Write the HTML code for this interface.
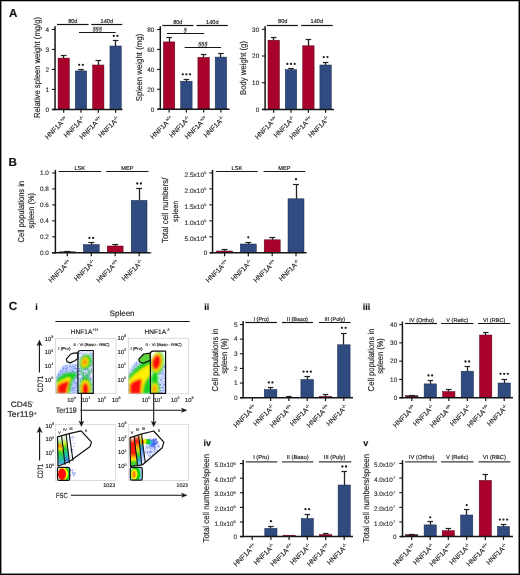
<!DOCTYPE html>
<html><head><meta charset="utf-8"><style>
html,body{margin:0;padding:0;background:#fff;}
svg{display:block;will-change:transform;opacity:0.999;}
text{font-family:"Liberation Sans", sans-serif;text-rendering:geometricPrecision;stroke:#1e1e1e;stroke-width:0.16px;}
.tk{stroke:#2a2a2a;stroke-width:0.12px;fill:#2a2a2a;}
</style></head><body>
<svg width="520" height="575" viewBox="0 0 520 575" font-family='"Liberation Sans", sans-serif' fill="#1e1e1e">
<rect x="0" y="0" width="520" height="575" fill="#fff"/>
<text x="9.0" y="17.0" font-size="11.6" font-weight="bold" fill="#111" >A</text>
<text x="8.5" y="165.9" font-size="11.6" font-weight="bold" fill="#111" >B</text>
<text x="8.7" y="310.2" font-size="11.8" font-weight="bold" fill="#111" >C</text>
<text x="35.3" y="310.2" font-size="9.0" font-weight="bold" fill="#111" >i</text>
<text x="204.2" y="310.2" font-size="9.0" font-weight="bold" fill="#111" >ii</text>
<text x="362.8" y="310.2" font-size="9.0" font-weight="bold" fill="#111" >iii</text>
<text x="203.4" y="445.8" font-size="9.0" font-weight="bold" fill="#111" >iv</text>
<text x="363.3" y="445.8" font-size="9.0" font-weight="bold" fill="#111" >v</text>
<line x1="55.05" y1="26.2" x2="55.05" y2="110.15" stroke="#151515" stroke-width="1.5" />
<line x1="51.849999999999994" y1="29.4" x2="55.05" y2="29.4" stroke="#151515" stroke-width="1.1" />
<text x="49.0" y="31.703999999999997" font-size="6.4" text-anchor="end" class="tk">4</text>
<line x1="51.849999999999994" y1="49.4" x2="55.05" y2="49.4" stroke="#151515" stroke-width="1.1" />
<text x="49.0" y="51.704" font-size="6.4" text-anchor="end" class="tk">3</text>
<line x1="51.849999999999994" y1="69.4" x2="55.05" y2="69.4" stroke="#151515" stroke-width="1.1" />
<text x="49.0" y="71.70400000000001" font-size="6.4" text-anchor="end" class="tk">2</text>
<line x1="51.849999999999994" y1="89.4" x2="55.05" y2="89.4" stroke="#151515" stroke-width="1.1" />
<text x="49.0" y="91.70400000000001" font-size="6.4" text-anchor="end" class="tk">1</text>
<line x1="51.849999999999994" y1="109.4" x2="55.05" y2="109.4" stroke="#151515" stroke-width="1.1" />
<text x="49.0" y="111.70400000000001" font-size="6.4" text-anchor="end" class="tk">0</text>
<rect x="58.050000000000004" y="58.1" width="11.3" height="51.300000000000004" fill="#a8022c" stroke="#5a0018" stroke-width="0.5"/>
<line x1="63.5" y1="55.4" x2="63.5" y2="58.1" stroke="#222" stroke-width="1.3" />
<line x1="60.900000000000006" y1="55.5" x2="66.5" y2="55.5" stroke="#222" stroke-width="1.2" />
<rect x="75.35" y="70.9" width="11.3" height="38.5" fill="#2f4b80" stroke="#17264a" stroke-width="0.5"/>
<line x1="81.5" y1="69.5" x2="81.5" y2="70.9" stroke="#222" stroke-width="1.3" />
<line x1="78.2" y1="69.5" x2="83.8" y2="69.5" stroke="#222" stroke-width="1.2" />
<circle cx="79.17" cy="64.8" r="1.15" fill="#1e1e1e"/>
<circle cx="82.83" cy="64.8" r="1.15" fill="#1e1e1e"/>
<rect x="92.64999999999999" y="65.0" width="11.3" height="44.400000000000006" fill="#a8022c" stroke="#5a0018" stroke-width="0.5"/>
<line x1="98.5" y1="60.5" x2="98.5" y2="65.0" stroke="#222" stroke-width="1.3" />
<line x1="95.5" y1="60.5" x2="101.1" y2="60.5" stroke="#222" stroke-width="1.2" />
<rect x="109.94999999999999" y="46.0" width="11.3" height="63.400000000000006" fill="#2f4b80" stroke="#17264a" stroke-width="0.5"/>
<line x1="115.5" y1="40.4" x2="115.5" y2="46.0" stroke="#222" stroke-width="1.3" />
<line x1="112.8" y1="40.5" x2="118.39999999999999" y2="40.5" stroke="#222" stroke-width="1.2" />
<circle cx="113.77" cy="35.9" r="1.15" fill="#1e1e1e"/>
<circle cx="117.42" cy="35.9" r="1.15" fill="#1e1e1e"/>
<line x1="52.0" y1="109.4" x2="122.5" y2="109.4" stroke="#151515" stroke-width="1.5" />
<line x1="63.7" y1="109.4" x2="63.7" y2="112.80000000000001" stroke="#151515" stroke-width="1.2" />
<line x1="81.0" y1="109.4" x2="81.0" y2="112.80000000000001" stroke="#151515" stroke-width="1.2" />
<line x1="98.3" y1="109.4" x2="98.3" y2="112.80000000000001" stroke="#151515" stroke-width="1.2" />
<line x1="115.6" y1="109.4" x2="115.6" y2="112.80000000000001" stroke="#151515" stroke-width="1.2" />
<line x1="57.0" y1="24.5" x2="88.6" y2="24.5" stroke="#151515" stroke-width="1.2" />
<text x="72.8" y="22.6" font-size="5.6" text-anchor="middle" >80d</text>
<line x1="91.3" y1="24.5" x2="122.3" y2="24.5" stroke="#151515" stroke-width="1.2" />
<text x="106.8" y="22.6" font-size="5.6" text-anchor="middle" >140d</text>
<line x1="79.0" y1="32.5" x2="115.6" y2="32.5" stroke="#151515" stroke-width="1.2" />
<text x="97.4" y="30.8" font-size="5.6" text-anchor="middle" font-style="italic">§§§</text>
<text transform="translate(67.90,119.40) rotate(-45)" font-size="6.8" text-anchor="end">HNF1A<tspan font-size="4.4" dy="-2.58">+/+</tspan></text>
<text transform="translate(85.20,119.40) rotate(-45)" font-size="6.8" text-anchor="end">HNF1A<tspan font-size="4.4" dy="-2.58">-/-</tspan></text>
<text transform="translate(102.50,119.40) rotate(-45)" font-size="6.8" text-anchor="end">HNF1A<tspan font-size="4.4" dy="-2.58">+/+</tspan></text>
<text transform="translate(119.80,119.40) rotate(-45)" font-size="6.8" text-anchor="end">HNF1A<tspan font-size="4.4" dy="-2.58">-/-</tspan></text>
<text transform="translate(40.2,67.5) rotate(-90)" font-size="8.5" text-anchor="middle" textLength="101" lengthAdjust="spacingAndGlyphs" >Relative spleen weight (mg/g)</text>
<line x1="160.3" y1="26.2" x2="160.3" y2="109.95" stroke="#151515" stroke-width="1.5" />
<line x1="157.10000000000002" y1="29.5" x2="160.3" y2="29.5" stroke="#151515" stroke-width="1.1" />
<text x="154.4" y="31.804" font-size="6.4" text-anchor="end" class="tk">80</text>
<line x1="157.10000000000002" y1="49.4" x2="160.3" y2="49.4" stroke="#151515" stroke-width="1.1" />
<text x="154.4" y="51.704" font-size="6.4" text-anchor="end" class="tk">60</text>
<line x1="157.10000000000002" y1="69.4" x2="160.3" y2="69.4" stroke="#151515" stroke-width="1.1" />
<text x="154.4" y="71.70400000000001" font-size="6.4" text-anchor="end" class="tk">40</text>
<line x1="157.10000000000002" y1="89.3" x2="160.3" y2="89.3" stroke="#151515" stroke-width="1.1" />
<text x="154.4" y="91.604" font-size="6.4" text-anchor="end" class="tk">20</text>
<line x1="157.10000000000002" y1="109.2" x2="160.3" y2="109.2" stroke="#151515" stroke-width="1.1" />
<text x="154.4" y="111.504" font-size="6.4" text-anchor="end" class="tk">0</text>
<rect x="163.4" y="41.9" width="11.4" height="67.30000000000001" fill="#a8022c" stroke="#5a0018" stroke-width="0.5"/>
<line x1="169.5" y1="37.7" x2="169.5" y2="41.9" stroke="#222" stroke-width="1.3" />
<line x1="166.29999999999998" y1="37.5" x2="171.9" y2="37.5" stroke="#222" stroke-width="1.2" />
<rect x="180.70000000000002" y="81.2" width="11.4" height="28.0" fill="#2f4b80" stroke="#17264a" stroke-width="0.5"/>
<line x1="186.5" y1="79.2" x2="186.5" y2="81.2" stroke="#222" stroke-width="1.3" />
<line x1="183.6" y1="79.5" x2="189.20000000000002" y2="79.5" stroke="#222" stroke-width="1.2" />
<circle cx="182.75" cy="74.3" r="1.15" fill="#1e1e1e"/>
<circle cx="186.40" cy="74.3" r="1.15" fill="#1e1e1e"/>
<circle cx="190.05" cy="74.3" r="1.15" fill="#1e1e1e"/>
<rect x="197.9" y="57.4" width="11.4" height="51.800000000000004" fill="#a8022c" stroke="#5a0018" stroke-width="0.5"/>
<line x1="203.5" y1="54.8" x2="203.5" y2="57.4" stroke="#222" stroke-width="1.3" />
<line x1="200.79999999999998" y1="54.5" x2="206.4" y2="54.5" stroke="#222" stroke-width="1.2" />
<rect x="215.20000000000002" y="57.1" width="11.4" height="52.1" fill="#2f4b80" stroke="#17264a" stroke-width="0.5"/>
<line x1="220.5" y1="53.3" x2="220.5" y2="57.1" stroke="#222" stroke-width="1.3" />
<line x1="218.1" y1="53.5" x2="223.70000000000002" y2="53.5" stroke="#222" stroke-width="1.2" />
<line x1="157.6" y1="109.2" x2="229.5" y2="109.2" stroke="#151515" stroke-width="1.5" />
<line x1="169.1" y1="109.2" x2="169.1" y2="112.60000000000001" stroke="#151515" stroke-width="1.2" />
<line x1="186.4" y1="109.2" x2="186.4" y2="112.60000000000001" stroke="#151515" stroke-width="1.2" />
<line x1="203.6" y1="109.2" x2="203.6" y2="112.60000000000001" stroke="#151515" stroke-width="1.2" />
<line x1="220.9" y1="109.2" x2="220.9" y2="112.60000000000001" stroke="#151515" stroke-width="1.2" />
<line x1="162.3" y1="25.5" x2="193.5" y2="25.5" stroke="#151515" stroke-width="1.2" />
<text x="177.8" y="23.6" font-size="5.6" text-anchor="middle" >80d</text>
<line x1="196.4" y1="25.5" x2="227.8" y2="25.5" stroke="#151515" stroke-width="1.2" />
<text x="212.3" y="23.6" font-size="5.6" text-anchor="middle" >140d</text>
<line x1="167.0" y1="33.5" x2="204.2" y2="33.5" stroke="#151515" stroke-width="1.2" />
<text x="185.2" y="32.099999999999994" font-size="5.6" text-anchor="middle" font-style="italic">§</text>
<line x1="184.6" y1="47.5" x2="221.0" y2="47.5" stroke="#151515" stroke-width="1.2" />
<text x="202.9" y="45.699999999999996" font-size="5.6" text-anchor="middle" font-style="italic">§§§</text>
<text transform="translate(173.30,119.20) rotate(-45)" font-size="6.8" text-anchor="end">HNF1A<tspan font-size="4.4" dy="-2.58">+/+</tspan></text>
<text transform="translate(190.60,119.20) rotate(-45)" font-size="6.8" text-anchor="end">HNF1A<tspan font-size="4.4" dy="-2.58">-/-</tspan></text>
<text transform="translate(207.80,119.20) rotate(-45)" font-size="6.8" text-anchor="end">HNF1A<tspan font-size="4.4" dy="-2.58">+/+</tspan></text>
<text transform="translate(225.10,119.20) rotate(-45)" font-size="6.8" text-anchor="end">HNF1A<tspan font-size="4.4" dy="-2.58">-/-</tspan></text>
<text transform="translate(141.9,67.5) rotate(-90)" font-size="8.5" text-anchor="middle" textLength="67.6" lengthAdjust="spacingAndGlyphs" >Spleen weight (mg)</text>
<line x1="265.1" y1="26.2" x2="265.1" y2="110.15" stroke="#151515" stroke-width="1.5" />
<line x1="261.90000000000003" y1="29.3" x2="265.1" y2="29.3" stroke="#151515" stroke-width="1.1" />
<text x="259.2" y="31.604" font-size="6.4" text-anchor="end" class="tk">30</text>
<line x1="261.90000000000003" y1="56.0" x2="265.1" y2="56.0" stroke="#151515" stroke-width="1.1" />
<text x="259.2" y="58.304" font-size="6.4" text-anchor="end" class="tk">20</text>
<line x1="261.90000000000003" y1="82.7" x2="265.1" y2="82.7" stroke="#151515" stroke-width="1.1" />
<text x="259.2" y="85.004" font-size="6.4" text-anchor="end" class="tk">10</text>
<line x1="261.90000000000003" y1="109.4" x2="265.1" y2="109.4" stroke="#151515" stroke-width="1.1" />
<text x="259.2" y="111.70400000000001" font-size="6.4" text-anchor="end" class="tk">0</text>
<rect x="268.0" y="40.2" width="11.4" height="69.2" fill="#a8022c" stroke="#5a0018" stroke-width="0.5"/>
<line x1="273.5" y1="37.9" x2="273.5" y2="40.2" stroke="#222" stroke-width="1.3" />
<line x1="270.9" y1="37.5" x2="276.5" y2="37.5" stroke="#222" stroke-width="1.2" />
<rect x="285.3" y="69.6" width="11.4" height="39.80000000000001" fill="#2f4b80" stroke="#17264a" stroke-width="0.5"/>
<line x1="291.5" y1="68.3" x2="291.5" y2="69.6" stroke="#222" stroke-width="1.3" />
<line x1="288.2" y1="68.5" x2="293.8" y2="68.5" stroke="#222" stroke-width="1.2" />
<circle cx="287.35" cy="63.9" r="1.15" fill="#1e1e1e"/>
<circle cx="291.00" cy="63.9" r="1.15" fill="#1e1e1e"/>
<circle cx="294.65" cy="63.9" r="1.15" fill="#1e1e1e"/>
<rect x="302.7" y="45.8" width="11.4" height="63.60000000000001" fill="#a8022c" stroke="#5a0018" stroke-width="0.5"/>
<line x1="308.5" y1="39.4" x2="308.5" y2="45.8" stroke="#222" stroke-width="1.3" />
<line x1="305.59999999999997" y1="39.5" x2="311.2" y2="39.5" stroke="#222" stroke-width="1.2" />
<rect x="319.90000000000003" y="65.0" width="11.4" height="44.400000000000006" fill="#2f4b80" stroke="#17264a" stroke-width="0.5"/>
<line x1="325.5" y1="62.3" x2="325.5" y2="65.0" stroke="#222" stroke-width="1.3" />
<line x1="322.8" y1="62.5" x2="328.40000000000003" y2="62.5" stroke="#222" stroke-width="1.2" />
<circle cx="323.78" cy="57.1" r="1.15" fill="#1e1e1e"/>
<circle cx="327.43" cy="57.1" r="1.15" fill="#1e1e1e"/>
<line x1="262.0" y1="109.4" x2="334.0" y2="109.4" stroke="#151515" stroke-width="1.5" />
<line x1="273.7" y1="109.4" x2="273.7" y2="112.80000000000001" stroke="#151515" stroke-width="1.2" />
<line x1="291.0" y1="109.4" x2="291.0" y2="112.80000000000001" stroke="#151515" stroke-width="1.2" />
<line x1="308.4" y1="109.4" x2="308.4" y2="112.80000000000001" stroke="#151515" stroke-width="1.2" />
<line x1="325.6" y1="109.4" x2="325.6" y2="112.80000000000001" stroke="#151515" stroke-width="1.2" />
<line x1="266.9" y1="25.5" x2="298.0" y2="25.5" stroke="#151515" stroke-width="1.2" />
<text x="282.7" y="23.3" font-size="5.6" text-anchor="middle" >80d</text>
<line x1="301.2" y1="25.5" x2="332.7" y2="25.5" stroke="#151515" stroke-width="1.2" />
<text x="316.8" y="23.3" font-size="5.6" text-anchor="middle" >140d</text>
<text transform="translate(277.90,119.40) rotate(-45)" font-size="6.8" text-anchor="end">HNF1A<tspan font-size="4.4" dy="-2.58">+/+</tspan></text>
<text transform="translate(295.20,119.40) rotate(-45)" font-size="6.8" text-anchor="end">HNF1A<tspan font-size="4.4" dy="-2.58">-/-</tspan></text>
<text transform="translate(312.60,119.40) rotate(-45)" font-size="6.8" text-anchor="end">HNF1A<tspan font-size="4.4" dy="-2.58">+/+</tspan></text>
<text transform="translate(329.80,119.40) rotate(-45)" font-size="6.8" text-anchor="end">HNF1A<tspan font-size="4.4" dy="-2.58">-/-</tspan></text>
<text transform="translate(245.8,68.0) rotate(-90)" font-size="8.5" text-anchor="middle" textLength="54" lengthAdjust="spacingAndGlyphs" >Body weight (g)</text>
<line x1="55.4" y1="169.9" x2="55.4" y2="253.55" stroke="#151515" stroke-width="1.5" />
<line x1="52.199999999999996" y1="172.95" x2="55.4" y2="172.95" stroke="#151515" stroke-width="1.1" />
<text x="48.8" y="175.254" font-size="6.4" text-anchor="end" class="tk">1.0</text>
<line x1="52.199999999999996" y1="188.92" x2="55.4" y2="188.92" stroke="#151515" stroke-width="1.1" />
<text x="48.8" y="191.224" font-size="6.4" text-anchor="end" class="tk">0.8</text>
<line x1="52.199999999999996" y1="204.89" x2="55.4" y2="204.89" stroke="#151515" stroke-width="1.1" />
<text x="48.8" y="207.194" font-size="6.4" text-anchor="end" class="tk">0.6</text>
<line x1="52.199999999999996" y1="220.86" x2="55.4" y2="220.86" stroke="#151515" stroke-width="1.1" />
<text x="48.8" y="223.16400000000002" font-size="6.4" text-anchor="end" class="tk">0.4</text>
<line x1="52.199999999999996" y1="236.83" x2="55.4" y2="236.83" stroke="#151515" stroke-width="1.1" />
<text x="48.8" y="239.13400000000001" font-size="6.4" text-anchor="end" class="tk">0.2</text>
<line x1="52.199999999999996" y1="252.8" x2="55.4" y2="252.8" stroke="#151515" stroke-width="1.1" />
<text x="48.8" y="255.104" font-size="6.4" text-anchor="end" class="tk">0.0</text>
<rect x="59.4" y="251.8" width="15.8" height="1.0" fill="#5e0a22" stroke="#17264a" stroke-width="0.5"/>
<line x1="67.5" y1="251.0" x2="67.5" y2="251.8" stroke="#222" stroke-width="1.3" />
<line x1="64.3" y1="251.5" x2="70.3" y2="251.5" stroke="#222" stroke-width="1.2" />
<rect x="83.39999999999999" y="244.6" width="15.8" height="8.200000000000017" fill="#2f4b80" stroke="#17264a" stroke-width="0.5"/>
<line x1="91.5" y1="242.3" x2="91.5" y2="244.6" stroke="#222" stroke-width="1.3" />
<line x1="88.3" y1="242.5" x2="94.3" y2="242.5" stroke="#222" stroke-width="1.2" />
<circle cx="89.47" cy="237.9" r="1.15" fill="#1e1e1e"/>
<circle cx="93.12" cy="237.9" r="1.15" fill="#1e1e1e"/>
<rect x="107.3" y="246.0" width="15.8" height="6.800000000000011" fill="#a8022c" stroke="#5a0018" stroke-width="0.5"/>
<line x1="115.5" y1="244.0" x2="115.5" y2="246.0" stroke="#222" stroke-width="1.3" />
<line x1="112.2" y1="244.5" x2="118.2" y2="244.5" stroke="#222" stroke-width="1.2" />
<rect x="131.2" y="200.4" width="15.8" height="52.400000000000006" fill="#2f4b80" stroke="#17264a" stroke-width="0.5"/>
<line x1="139.5" y1="188.5" x2="139.5" y2="200.4" stroke="#222" stroke-width="1.3" />
<line x1="136.1" y1="188.5" x2="142.1" y2="188.5" stroke="#222" stroke-width="1.2" />
<circle cx="137.28" cy="183.5" r="1.15" fill="#1e1e1e"/>
<circle cx="140.93" cy="183.5" r="1.15" fill="#1e1e1e"/>
<line x1="52.0" y1="252.8" x2="150.0" y2="252.8" stroke="#151515" stroke-width="1.5" />
<line x1="67.3" y1="252.8" x2="67.3" y2="256.2" stroke="#151515" stroke-width="1.2" />
<line x1="91.3" y1="252.8" x2="91.3" y2="256.2" stroke="#151515" stroke-width="1.2" />
<line x1="115.2" y1="252.8" x2="115.2" y2="256.2" stroke="#151515" stroke-width="1.2" />
<line x1="139.1" y1="252.8" x2="139.1" y2="256.2" stroke="#151515" stroke-width="1.2" />
<line x1="58.7" y1="171.5" x2="101.0" y2="171.5" stroke="#151515" stroke-width="1.2" />
<text x="79.8" y="169.8" font-size="5.6" text-anchor="middle" >LSK</text>
<line x1="106.2" y1="171.5" x2="148.5" y2="171.5" stroke="#151515" stroke-width="1.2" />
<text x="127.3" y="169.8" font-size="5.6" text-anchor="middle" >MEP</text>
<text transform="translate(71.50,262.80) rotate(-45)" font-size="6.8" text-anchor="end">HNF1A<tspan font-size="4.4" dy="-2.58">+/+</tspan></text>
<text transform="translate(95.50,262.80) rotate(-45)" font-size="6.8" text-anchor="end">HNF1A<tspan font-size="4.4" dy="-2.58">-/-</tspan></text>
<text transform="translate(119.40,262.80) rotate(-45)" font-size="6.8" text-anchor="end">HNF1A<tspan font-size="4.4" dy="-2.58">+/+</tspan></text>
<text transform="translate(143.30,262.80) rotate(-45)" font-size="6.8" text-anchor="end">HNF1A<tspan font-size="4.4" dy="-2.58">-/-</tspan></text>
<text transform="translate(24.0,211.7) rotate(-90)" font-size="8.5" text-anchor="middle" textLength="61.5" lengthAdjust="spacingAndGlyphs" >Cell populations in</text>
<text transform="translate(34.2,210.8) rotate(-90)" font-size="8.5" text-anchor="middle" textLength="35.6" lengthAdjust="spacingAndGlyphs" >spleen (%)</text>
<line x1="212.55" y1="169.9" x2="212.55" y2="253.55" stroke="#151515" stroke-width="1.5" />
<line x1="209.35000000000002" y1="172.9" x2="212.55" y2="172.9" stroke="#151515" stroke-width="1.1" />
<text x="204.1" y="176.6" font-size="6.4" text-anchor="end" textLength="19.6" lengthAdjust="spacingAndGlyphs" class="tk">2.5x10</text>
<text x="204.2" y="174.1" font-size="4.0" class="tk">5</text>
<line x1="209.35000000000002" y1="188.88" x2="212.55" y2="188.88" stroke="#151515" stroke-width="1.1" />
<text x="204.1" y="192.57999999999998" font-size="6.4" text-anchor="end" textLength="19.6" lengthAdjust="spacingAndGlyphs" class="tk">2.0x10</text>
<text x="204.2" y="190.07999999999998" font-size="4.0" class="tk">5</text>
<line x1="209.35000000000002" y1="204.86" x2="212.55" y2="204.86" stroke="#151515" stroke-width="1.1" />
<text x="204.1" y="208.56" font-size="6.4" text-anchor="end" textLength="19.6" lengthAdjust="spacingAndGlyphs" class="tk">1.5x10</text>
<text x="204.2" y="206.06" font-size="4.0" class="tk">5</text>
<line x1="209.35000000000002" y1="220.84" x2="212.55" y2="220.84" stroke="#151515" stroke-width="1.1" />
<text x="204.1" y="224.54" font-size="6.4" text-anchor="end" textLength="19.6" lengthAdjust="spacingAndGlyphs" class="tk">1.0x10</text>
<text x="204.2" y="222.04" font-size="4.0" class="tk">5</text>
<line x1="209.35000000000002" y1="236.82" x2="212.55" y2="236.82" stroke="#151515" stroke-width="1.1" />
<text x="204.1" y="240.51999999999998" font-size="6.4" text-anchor="end" textLength="19.6" lengthAdjust="spacingAndGlyphs" class="tk">5.0x10</text>
<text x="204.2" y="238.01999999999998" font-size="4.0" class="tk">4</text>
<line x1="209.35000000000002" y1="252.8" x2="212.55" y2="252.8" stroke="#151515" stroke-width="1.1" />
<text x="207.4" y="255.104" font-size="6.4" text-anchor="end" class="tk">0</text>
<rect x="216.6" y="251.0" width="16.0" height="1.8000000000000114" fill="#a8022c" stroke="#5a0018" stroke-width="0.5"/>
<line x1="224.5" y1="249.4" x2="224.5" y2="251.0" stroke="#222" stroke-width="1.3" />
<line x1="221.6" y1="249.5" x2="227.6" y2="249.5" stroke="#222" stroke-width="1.2" />
<rect x="240.3" y="244.0" width="16.0" height="8.800000000000011" fill="#2f4b80" stroke="#17264a" stroke-width="0.5"/>
<line x1="248.5" y1="242.3" x2="248.5" y2="244.0" stroke="#222" stroke-width="1.3" />
<line x1="245.3" y1="242.5" x2="251.3" y2="242.5" stroke="#222" stroke-width="1.2" />
<circle cx="248.30" cy="237.3" r="1.15" fill="#1e1e1e"/>
<rect x="264.2" y="239.8" width="16.0" height="13.0" fill="#a8022c" stroke="#5a0018" stroke-width="0.5"/>
<line x1="272.5" y1="237.5" x2="272.5" y2="239.8" stroke="#222" stroke-width="1.3" />
<line x1="269.2" y1="237.5" x2="275.2" y2="237.5" stroke="#222" stroke-width="1.2" />
<rect x="288.0" y="198.8" width="16.0" height="54.0" fill="#2f4b80" stroke="#17264a" stroke-width="0.5"/>
<line x1="296.5" y1="184.4" x2="296.5" y2="198.8" stroke="#222" stroke-width="1.3" />
<line x1="293.0" y1="184.5" x2="299.0" y2="184.5" stroke="#222" stroke-width="1.2" />
<circle cx="296.00" cy="179.2" r="1.15" fill="#1e1e1e"/>
<line x1="210.0" y1="252.8" x2="306.5" y2="252.8" stroke="#151515" stroke-width="1.5" />
<line x1="224.6" y1="252.8" x2="224.6" y2="256.2" stroke="#151515" stroke-width="1.2" />
<line x1="248.3" y1="252.8" x2="248.3" y2="256.2" stroke="#151515" stroke-width="1.2" />
<line x1="272.2" y1="252.8" x2="272.2" y2="256.2" stroke="#151515" stroke-width="1.2" />
<line x1="296.0" y1="252.8" x2="296.0" y2="256.2" stroke="#151515" stroke-width="1.2" />
<line x1="215.8" y1="171.5" x2="257.7" y2="171.5" stroke="#151515" stroke-width="1.2" />
<text x="236.9" y="169.8" font-size="5.6" text-anchor="middle" >LSK</text>
<line x1="263.5" y1="171.5" x2="305.2" y2="171.5" stroke="#151515" stroke-width="1.2" />
<text x="284.3" y="169.8" font-size="5.6" text-anchor="middle" >MEP</text>
<text transform="translate(228.80,262.80) rotate(-45)" font-size="6.8" text-anchor="end">HNF1A<tspan font-size="4.4" dy="-2.58">+/+</tspan></text>
<text transform="translate(252.50,262.80) rotate(-45)" font-size="6.8" text-anchor="end">HNF1A<tspan font-size="4.4" dy="-2.58">-/-</tspan></text>
<text transform="translate(276.40,262.80) rotate(-45)" font-size="6.8" text-anchor="end">HNF1A<tspan font-size="4.4" dy="-2.58">+/+</tspan></text>
<text transform="translate(300.20,262.80) rotate(-45)" font-size="6.8" text-anchor="end">HNF1A<tspan font-size="4.4" dy="-2.58">-/-</tspan></text>
<text transform="translate(168.3,210.3) rotate(-90)" font-size="8.7" text-anchor="middle" textLength="65.4" lengthAdjust="spacingAndGlyphs" >Total cell numbers/</text>
<text transform="translate(178.2,211.4) rotate(-90)" font-size="7.8" text-anchor="middle" textLength="21.2" lengthAdjust="spacingAndGlyphs" >spleen</text>
<circle cx="150.8" cy="252.8" r="0.7" fill="#333"/>
<line x1="243.1" y1="321.0" x2="243.1" y2="398.45" stroke="#151515" stroke-width="1.5" />
<line x1="239.9" y1="324.5" x2="243.1" y2="324.5" stroke="#151515" stroke-width="1.1" />
<text x="237.6" y="326.804" font-size="6.4" text-anchor="end" class="tk">5</text>
<line x1="239.9" y1="339.14" x2="243.1" y2="339.14" stroke="#151515" stroke-width="1.1" />
<text x="237.6" y="341.44399999999996" font-size="6.4" text-anchor="end" class="tk">4</text>
<line x1="239.9" y1="353.78" x2="243.1" y2="353.78" stroke="#151515" stroke-width="1.1" />
<text x="237.6" y="356.08399999999995" font-size="6.4" text-anchor="end" class="tk">3</text>
<line x1="239.9" y1="368.42" x2="243.1" y2="368.42" stroke="#151515" stroke-width="1.1" />
<text x="237.6" y="370.724" font-size="6.4" text-anchor="end" class="tk">2</text>
<line x1="239.9" y1="383.06" x2="243.1" y2="383.06" stroke="#151515" stroke-width="1.1" />
<text x="237.6" y="385.364" font-size="6.4" text-anchor="end" class="tk">1</text>
<line x1="239.9" y1="397.7" x2="243.1" y2="397.7" stroke="#151515" stroke-width="1.1" />
<text x="237.6" y="400.00399999999996" font-size="6.4" text-anchor="end" class="tk">0</text>
<rect x="264.3" y="389.5" width="12.6" height="8.199999999999989" fill="#2f4b80" stroke="#17264a" stroke-width="0.5"/>
<line x1="270.5" y1="387.2" x2="270.5" y2="389.5" stroke="#222" stroke-width="1.3" />
<line x1="267.8" y1="387.5" x2="273.40000000000003" y2="387.5" stroke="#222" stroke-width="1.2" />
<circle cx="268.78" cy="382.4" r="1.15" fill="#1e1e1e"/>
<circle cx="272.43" cy="382.4" r="1.15" fill="#1e1e1e"/>
<line x1="286.09999999999997" y1="396.5" x2="291.7" y2="396.5" stroke="#222" stroke-width="1.2" />
<rect x="300.9" y="379.5" width="12.6" height="18.19999999999999" fill="#2f4b80" stroke="#17264a" stroke-width="0.5"/>
<line x1="307.5" y1="376.3" x2="307.5" y2="379.5" stroke="#222" stroke-width="1.3" />
<line x1="304.4" y1="376.5" x2="310.0" y2="376.5" stroke="#222" stroke-width="1.2" />
<circle cx="303.55" cy="371.7" r="1.15" fill="#1e1e1e"/>
<circle cx="307.20" cy="371.7" r="1.15" fill="#1e1e1e"/>
<circle cx="310.85" cy="371.7" r="1.15" fill="#1e1e1e"/>
<rect x="319.2" y="396.4" width="12.6" height="1.3000000000000114" fill="#a8022c" stroke="#5a0018" stroke-width="0.5"/>
<line x1="325.5" y1="394.9" x2="325.5" y2="396.4" stroke="#222" stroke-width="1.3" />
<line x1="322.7" y1="394.5" x2="328.3" y2="394.5" stroke="#222" stroke-width="1.2" />
<rect x="337.5" y="344.8" width="12.6" height="52.89999999999998" fill="#2f4b80" stroke="#17264a" stroke-width="0.5"/>
<line x1="343.5" y1="333.1" x2="343.5" y2="344.8" stroke="#222" stroke-width="1.3" />
<line x1="341.0" y1="333.5" x2="346.6" y2="333.5" stroke="#222" stroke-width="1.2" />
<circle cx="341.98" cy="327.8" r="1.15" fill="#1e1e1e"/>
<circle cx="345.62" cy="327.8" r="1.15" fill="#1e1e1e"/>
<line x1="240.1" y1="397.7" x2="353.0" y2="397.7" stroke="#151515" stroke-width="1.5" />
<line x1="252.3" y1="397.7" x2="252.3" y2="401.09999999999997" stroke="#151515" stroke-width="1.2" />
<line x1="270.6" y1="397.7" x2="270.6" y2="401.09999999999997" stroke="#151515" stroke-width="1.2" />
<line x1="288.9" y1="397.7" x2="288.9" y2="401.09999999999997" stroke="#151515" stroke-width="1.2" />
<line x1="307.2" y1="397.7" x2="307.2" y2="401.09999999999997" stroke="#151515" stroke-width="1.2" />
<line x1="325.5" y1="397.7" x2="325.5" y2="401.09999999999997" stroke="#151515" stroke-width="1.2" />
<line x1="343.8" y1="397.7" x2="343.8" y2="401.09999999999997" stroke="#151515" stroke-width="1.2" />
<line x1="245.3" y1="322.5" x2="277.0" y2="322.5" stroke="#151515" stroke-width="1.2" />
<text x="261.2" y="321.1" font-size="5.6" text-anchor="middle" >I (Pro)</text>
<line x1="281.9" y1="322.5" x2="313.0" y2="322.5" stroke="#151515" stroke-width="1.2" />
<text x="297.4" y="321.1" font-size="5.6" text-anchor="middle" >II (Baso)</text>
<line x1="318.9" y1="322.5" x2="350.6" y2="322.5" stroke="#151515" stroke-width="1.2" />
<text x="334.8" y="321.1" font-size="5.6" text-anchor="middle" >III (Poly)</text>
<text transform="translate(256.50,407.70) rotate(-45)" font-size="6.8" text-anchor="end">HNF1A<tspan font-size="4.4" dy="-2.58">+/+</tspan></text>
<text transform="translate(274.80,407.70) rotate(-45)" font-size="6.8" text-anchor="end">HNF1A<tspan font-size="4.4" dy="-2.58">-/-</tspan></text>
<text transform="translate(293.10,407.70) rotate(-45)" font-size="6.8" text-anchor="end">HNF1A<tspan font-size="4.4" dy="-2.58">+/+</tspan></text>
<text transform="translate(311.40,407.70) rotate(-45)" font-size="6.8" text-anchor="end">HNF1A<tspan font-size="4.4" dy="-2.58">-/-</tspan></text>
<text transform="translate(329.70,407.70) rotate(-45)" font-size="6.8" text-anchor="end">HNF1A<tspan font-size="4.4" dy="-2.58">+/+</tspan></text>
<text transform="translate(348.00,407.70) rotate(-45)" font-size="6.8" text-anchor="end">HNF1A<tspan font-size="4.4" dy="-2.58">-/-</tspan></text>
<text transform="translate(217.6,360.0) rotate(-90)" font-size="8.5" text-anchor="middle" textLength="62.8" lengthAdjust="spacingAndGlyphs" >Cell populations in</text>
<text transform="translate(227.2,356.0) rotate(-90)" font-size="8.5" text-anchor="middle" textLength="35.6" lengthAdjust="spacingAndGlyphs" >spleen (%)</text>
<line x1="402.4" y1="321.6" x2="402.4" y2="398.45" stroke="#151515" stroke-width="1.5" />
<line x1="399.2" y1="324.6" x2="402.4" y2="324.6" stroke="#151515" stroke-width="1.1" />
<text x="397.2" y="326.904" font-size="6.4" text-anchor="end" class="tk">40</text>
<line x1="399.2" y1="342.88" x2="402.4" y2="342.88" stroke="#151515" stroke-width="1.1" />
<text x="397.2" y="345.18399999999997" font-size="6.4" text-anchor="end" class="tk">30</text>
<line x1="399.2" y1="361.15" x2="402.4" y2="361.15" stroke="#151515" stroke-width="1.1" />
<text x="397.2" y="363.45399999999995" font-size="6.4" text-anchor="end" class="tk">20</text>
<line x1="399.2" y1="379.43" x2="402.4" y2="379.43" stroke="#151515" stroke-width="1.1" />
<text x="397.2" y="381.734" font-size="6.4" text-anchor="end" class="tk">10</text>
<line x1="399.2" y1="397.7" x2="402.4" y2="397.7" stroke="#151515" stroke-width="1.1" />
<text x="397.2" y="400.00399999999996" font-size="6.4" text-anchor="end" class="tk">0</text>
<rect x="405.65000000000003" y="395.7" width="12.3" height="2.0" fill="#5e0a22" stroke="#17264a" stroke-width="0.5"/>
<line x1="411.5" y1="395.0" x2="411.5" y2="395.7" stroke="#222" stroke-width="1.3" />
<line x1="409.0" y1="395.5" x2="414.6" y2="395.5" stroke="#222" stroke-width="1.2" />
<rect x="424.15000000000003" y="383.9" width="12.3" height="13.800000000000011" fill="#2f4b80" stroke="#17264a" stroke-width="0.5"/>
<line x1="430.5" y1="380.5" x2="430.5" y2="383.9" stroke="#222" stroke-width="1.3" />
<line x1="427.5" y1="380.5" x2="433.1" y2="380.5" stroke="#222" stroke-width="1.2" />
<circle cx="428.48" cy="375.4" r="1.15" fill="#1e1e1e"/>
<circle cx="432.12" cy="375.4" r="1.15" fill="#1e1e1e"/>
<rect x="442.65000000000003" y="391.5" width="12.3" height="6.199999999999989" fill="#a8022c" stroke="#5a0018" stroke-width="0.5"/>
<line x1="448.5" y1="389.2" x2="448.5" y2="391.5" stroke="#222" stroke-width="1.3" />
<line x1="446.0" y1="389.5" x2="451.6" y2="389.5" stroke="#222" stroke-width="1.2" />
<rect x="461.15000000000003" y="371.2" width="12.3" height="26.5" fill="#2f4b80" stroke="#17264a" stroke-width="0.5"/>
<line x1="467.5" y1="366.8" x2="467.5" y2="371.2" stroke="#222" stroke-width="1.3" />
<line x1="464.5" y1="366.5" x2="470.1" y2="366.5" stroke="#222" stroke-width="1.2" />
<circle cx="465.48" cy="361.5" r="1.15" fill="#1e1e1e"/>
<circle cx="469.12" cy="361.5" r="1.15" fill="#1e1e1e"/>
<rect x="479.55" y="335.0" width="12.3" height="62.69999999999999" fill="#a8022c" stroke="#5a0018" stroke-width="0.5"/>
<line x1="485.5" y1="332.2" x2="485.5" y2="335.0" stroke="#222" stroke-width="1.3" />
<line x1="482.9" y1="332.5" x2="488.5" y2="332.5" stroke="#222" stroke-width="1.2" />
<rect x="498.05" y="383.0" width="12.3" height="14.699999999999989" fill="#2f4b80" stroke="#17264a" stroke-width="0.5"/>
<line x1="504.5" y1="379.3" x2="504.5" y2="383.0" stroke="#222" stroke-width="1.3" />
<line x1="501.4" y1="379.5" x2="507.0" y2="379.5" stroke="#222" stroke-width="1.2" />
<circle cx="500.55" cy="373.8" r="1.15" fill="#1e1e1e"/>
<circle cx="504.20" cy="373.8" r="1.15" fill="#1e1e1e"/>
<circle cx="507.85" cy="373.8" r="1.15" fill="#1e1e1e"/>
<line x1="399.5" y1="397.7" x2="513.0" y2="397.7" stroke="#151515" stroke-width="1.5" />
<line x1="411.8" y1="397.7" x2="411.8" y2="401.09999999999997" stroke="#151515" stroke-width="1.2" />
<line x1="430.3" y1="397.7" x2="430.3" y2="401.09999999999997" stroke="#151515" stroke-width="1.2" />
<line x1="448.8" y1="397.7" x2="448.8" y2="401.09999999999997" stroke="#151515" stroke-width="1.2" />
<line x1="467.3" y1="397.7" x2="467.3" y2="401.09999999999997" stroke="#151515" stroke-width="1.2" />
<line x1="485.7" y1="397.7" x2="485.7" y2="401.09999999999997" stroke="#151515" stroke-width="1.2" />
<line x1="504.2" y1="397.7" x2="504.2" y2="401.09999999999997" stroke="#151515" stroke-width="1.2" />
<line x1="405.1" y1="323.5" x2="436.9" y2="323.5" stroke="#151515" stroke-width="1.2" />
<text x="421.6" y="321.5" font-size="5.6" text-anchor="middle" >IV (Ortho)</text>
<line x1="441.1" y1="323.5" x2="473.4" y2="323.5" stroke="#151515" stroke-width="1.2" />
<text x="457.2" y="321.5" font-size="5.6" text-anchor="middle" >V (Retic)</text>
<line x1="478.0" y1="323.5" x2="510.3" y2="323.5" stroke="#151515" stroke-width="1.2" />
<text x="494.2" y="321.5" font-size="5.6" text-anchor="middle" >VI (RBC)</text>
<text transform="translate(416.00,407.70) rotate(-45)" font-size="6.8" text-anchor="end">HNF1A<tspan font-size="4.4" dy="-2.58">+/+</tspan></text>
<text transform="translate(434.50,407.70) rotate(-45)" font-size="6.8" text-anchor="end">HNF1A<tspan font-size="4.4" dy="-2.58">-/-</tspan></text>
<text transform="translate(453.00,407.70) rotate(-45)" font-size="6.8" text-anchor="end">HNF1A<tspan font-size="4.4" dy="-2.58">+/+</tspan></text>
<text transform="translate(471.50,407.70) rotate(-45)" font-size="6.8" text-anchor="end">HNF1A<tspan font-size="4.4" dy="-2.58">-/-</tspan></text>
<text transform="translate(489.90,407.70) rotate(-45)" font-size="6.8" text-anchor="end">HNF1A<tspan font-size="4.4" dy="-2.58">+/+</tspan></text>
<text transform="translate(508.40,407.70) rotate(-45)" font-size="6.8" text-anchor="end">HNF1A<tspan font-size="4.4" dy="-2.58">-/-</tspan></text>
<text transform="translate(373.6,360.0) rotate(-90)" font-size="8.5" text-anchor="middle" textLength="62.8" lengthAdjust="spacingAndGlyphs" >Cell populations in</text>
<text transform="translate(383.2,356.0) rotate(-90)" font-size="8.5" text-anchor="middle" textLength="35.6" lengthAdjust="spacingAndGlyphs" >spleen (%)</text>
<line x1="243.15" y1="460.0" x2="243.15" y2="537.35" stroke="#151515" stroke-width="1.5" />
<line x1="239.95000000000002" y1="463.55" x2="243.15" y2="463.55" stroke="#151515" stroke-width="1.1" />
<text x="233.5" y="467.15000000000003" font-size="6.4" text-anchor="end" textLength="19.0" lengthAdjust="spacingAndGlyphs" class="tk">5.0x10</text>
<text x="233.6" y="464.65000000000003" font-size="4.0" class="tk">6</text>
<line x1="239.95000000000002" y1="478.16" x2="243.15" y2="478.16" stroke="#151515" stroke-width="1.1" />
<text x="233.5" y="481.76000000000005" font-size="6.4" text-anchor="end" textLength="19.0" lengthAdjust="spacingAndGlyphs" class="tk">4.0x10</text>
<text x="233.6" y="479.26000000000005" font-size="4.0" class="tk">6</text>
<line x1="239.95000000000002" y1="492.77" x2="243.15" y2="492.77" stroke="#151515" stroke-width="1.1" />
<text x="233.5" y="496.37" font-size="6.4" text-anchor="end" textLength="19.0" lengthAdjust="spacingAndGlyphs" class="tk">3.0x10</text>
<text x="233.6" y="493.87" font-size="4.0" class="tk">6</text>
<line x1="239.95000000000002" y1="507.38" x2="243.15" y2="507.38" stroke="#151515" stroke-width="1.1" />
<text x="233.5" y="510.98" font-size="6.4" text-anchor="end" textLength="19.0" lengthAdjust="spacingAndGlyphs" class="tk">2.0x10</text>
<text x="233.6" y="508.48" font-size="4.0" class="tk">6</text>
<line x1="239.95000000000002" y1="521.99" x2="243.15" y2="521.99" stroke="#151515" stroke-width="1.1" />
<text x="233.5" y="525.59" font-size="6.4" text-anchor="end" textLength="19.0" lengthAdjust="spacingAndGlyphs" class="tk">1.0x10</text>
<text x="233.6" y="523.09" font-size="4.0" class="tk">6</text>
<line x1="239.95000000000002" y1="536.6" x2="243.15" y2="536.6" stroke="#151515" stroke-width="1.1" />
<text x="237.0" y="538.904" font-size="6.4" text-anchor="end" class="tk">0</text>
<rect x="264.79999999999995" y="528.4" width="12.2" height="8.200000000000045" fill="#2f4b80" stroke="#17264a" stroke-width="0.5"/>
<line x1="270.5" y1="526.1" x2="270.5" y2="528.4" stroke="#222" stroke-width="1.3" />
<line x1="268.09999999999997" y1="526.5" x2="273.7" y2="526.5" stroke="#222" stroke-width="1.2" />
<circle cx="270.90" cy="521.2" r="1.15" fill="#1e1e1e"/>
<rect x="283.0" y="535.2" width="12.2" height="1.3999999999999773" fill="#a8022c" stroke="#5a0018" stroke-width="0.5"/>
<rect x="301.2" y="518.5" width="12.2" height="18.100000000000023" fill="#2f4b80" stroke="#17264a" stroke-width="0.5"/>
<line x1="307.5" y1="514.3" x2="307.5" y2="518.5" stroke="#222" stroke-width="1.3" />
<line x1="304.5" y1="514.5" x2="310.1" y2="514.5" stroke="#222" stroke-width="1.2" />
<circle cx="305.48" cy="509.2" r="1.15" fill="#1e1e1e"/>
<circle cx="309.12" cy="509.2" r="1.15" fill="#1e1e1e"/>
<rect x="319.59999999999997" y="534.6" width="12.2" height="2.0" fill="#a8022c" stroke="#5a0018" stroke-width="0.5"/>
<line x1="325.5" y1="533.4" x2="325.5" y2="534.6" stroke="#222" stroke-width="1.3" />
<line x1="322.9" y1="533.5" x2="328.5" y2="533.5" stroke="#222" stroke-width="1.2" />
<rect x="338.09999999999997" y="485.0" width="12.2" height="51.60000000000002" fill="#2f4b80" stroke="#17264a" stroke-width="0.5"/>
<line x1="344.5" y1="471.2" x2="344.5" y2="485.0" stroke="#222" stroke-width="1.3" />
<line x1="341.4" y1="471.5" x2="347.0" y2="471.5" stroke="#222" stroke-width="1.2" />
<circle cx="342.38" cy="466.5" r="1.15" fill="#1e1e1e"/>
<circle cx="346.02" cy="466.5" r="1.15" fill="#1e1e1e"/>
<line x1="240.1" y1="536.6" x2="353.0" y2="536.6" stroke="#151515" stroke-width="1.5" />
<line x1="252.2" y1="536.6" x2="252.2" y2="540.0" stroke="#151515" stroke-width="1.2" />
<line x1="270.9" y1="536.6" x2="270.9" y2="540.0" stroke="#151515" stroke-width="1.2" />
<line x1="289.1" y1="536.6" x2="289.1" y2="540.0" stroke="#151515" stroke-width="1.2" />
<line x1="307.3" y1="536.6" x2="307.3" y2="540.0" stroke="#151515" stroke-width="1.2" />
<line x1="325.7" y1="536.6" x2="325.7" y2="540.0" stroke="#151515" stroke-width="1.2" />
<line x1="344.2" y1="536.6" x2="344.2" y2="540.0" stroke="#151515" stroke-width="1.2" />
<line x1="245.8" y1="461.9" x2="277.4" y2="461.9" stroke="#3a3a3a" stroke-width="1.2" />
<text x="261.2" y="459.29999999999995" font-size="5.8" text-anchor="middle" >I (Pro)</text>
<line x1="282.0" y1="461.9" x2="313.4" y2="461.9" stroke="#3a3a3a" stroke-width="1.2" />
<text x="297.7" y="459.29999999999995" font-size="5.8" text-anchor="middle" >II (Baso)</text>
<line x1="318.9" y1="461.9" x2="351.2" y2="461.9" stroke="#3a3a3a" stroke-width="1.2" />
<text x="334.6" y="459.29999999999995" font-size="5.8" text-anchor="middle" >III (Poly)</text>
<text transform="translate(256.40,546.60) rotate(-45)" font-size="6.8" text-anchor="end">HNF1A<tspan font-size="4.4" dy="-2.58">+/+</tspan></text>
<text transform="translate(275.10,546.60) rotate(-45)" font-size="6.8" text-anchor="end">HNF1A<tspan font-size="4.4" dy="-2.58">-/-</tspan></text>
<text transform="translate(293.30,546.60) rotate(-45)" font-size="6.8" text-anchor="end">HNF1A<tspan font-size="4.4" dy="-2.58">+/+</tspan></text>
<text transform="translate(311.50,546.60) rotate(-45)" font-size="6.8" text-anchor="end">HNF1A<tspan font-size="4.4" dy="-2.58">-/-</tspan></text>
<text transform="translate(329.90,546.60) rotate(-45)" font-size="6.8" text-anchor="end">HNF1A<tspan font-size="4.4" dy="-2.58">+/+</tspan></text>
<text transform="translate(348.40,546.60) rotate(-45)" font-size="6.8" text-anchor="end">HNF1A<tspan font-size="4.4" dy="-2.58">-/-</tspan></text>
<text transform="translate(209.0,498.2) rotate(-90)" font-size="8.5" text-anchor="middle" textLength="88.5" lengthAdjust="spacingAndGlyphs" >Total cell numbers/spleen</text>
<line x1="402.5" y1="460.2" x2="402.5" y2="537.35" stroke="#151515" stroke-width="1.5" />
<line x1="399.3" y1="463.4" x2="402.5" y2="463.4" stroke="#151515" stroke-width="1.1" />
<text x="392.9" y="467.0" font-size="6.4" text-anchor="end" textLength="19.0" lengthAdjust="spacingAndGlyphs" class="tk">5.0x10</text>
<text x="393.0" y="464.5" font-size="4.0" class="tk">7</text>
<line x1="399.3" y1="478.04" x2="402.5" y2="478.04" stroke="#151515" stroke-width="1.1" />
<text x="392.9" y="481.64000000000004" font-size="6.4" text-anchor="end" textLength="19.0" lengthAdjust="spacingAndGlyphs" class="tk">4.0x10</text>
<text x="393.0" y="479.14000000000004" font-size="4.0" class="tk">7</text>
<line x1="399.3" y1="492.68" x2="402.5" y2="492.68" stroke="#151515" stroke-width="1.1" />
<text x="392.9" y="496.28000000000003" font-size="6.4" text-anchor="end" textLength="19.0" lengthAdjust="spacingAndGlyphs" class="tk">3.0x10</text>
<text x="393.0" y="493.78000000000003" font-size="4.0" class="tk">7</text>
<line x1="399.3" y1="507.32" x2="402.5" y2="507.32" stroke="#151515" stroke-width="1.1" />
<text x="392.9" y="510.92" font-size="6.4" text-anchor="end" textLength="19.0" lengthAdjust="spacingAndGlyphs" class="tk">2.0x10</text>
<text x="393.0" y="508.42" font-size="4.0" class="tk">7</text>
<line x1="399.3" y1="521.96" x2="402.5" y2="521.96" stroke="#151515" stroke-width="1.1" />
<text x="392.9" y="525.5600000000001" font-size="6.4" text-anchor="end" textLength="19.0" lengthAdjust="spacingAndGlyphs" class="tk">1.0x10</text>
<text x="393.0" y="523.0600000000001" font-size="4.0" class="tk">7</text>
<line x1="399.3" y1="536.6" x2="402.5" y2="536.6" stroke="#151515" stroke-width="1.1" />
<text x="396.6" y="538.904" font-size="6.4" text-anchor="end" class="tk">0</text>
<rect x="405.59999999999997" y="534.6" width="12.2" height="2.0" fill="#5e0a22" stroke="#17264a" stroke-width="0.5"/>
<line x1="411.5" y1="534.0" x2="411.5" y2="534.6" stroke="#222" stroke-width="1.3" />
<line x1="408.9" y1="534.5" x2="414.5" y2="534.5" stroke="#222" stroke-width="1.2" />
<rect x="424.09999999999997" y="524.9" width="12.2" height="11.700000000000045" fill="#2f4b80" stroke="#17264a" stroke-width="0.5"/>
<line x1="430.5" y1="521.9" x2="430.5" y2="524.9" stroke="#222" stroke-width="1.3" />
<line x1="427.4" y1="521.5" x2="433.0" y2="521.5" stroke="#222" stroke-width="1.2" />
<circle cx="430.20" cy="517.3" r="1.15" fill="#1e1e1e"/>
<rect x="442.2" y="530.7" width="12.2" height="5.899999999999977" fill="#a8022c" stroke="#5a0018" stroke-width="0.5"/>
<line x1="448.5" y1="528.2" x2="448.5" y2="530.7" stroke="#222" stroke-width="1.3" />
<line x1="445.5" y1="528.5" x2="451.1" y2="528.5" stroke="#222" stroke-width="1.2" />
<rect x="460.59999999999997" y="515.0" width="12.2" height="21.600000000000023" fill="#2f4b80" stroke="#17264a" stroke-width="0.5"/>
<line x1="466.5" y1="509.9" x2="466.5" y2="515.0" stroke="#222" stroke-width="1.3" />
<line x1="463.9" y1="509.5" x2="469.5" y2="509.5" stroke="#222" stroke-width="1.2" />
<circle cx="466.70" cy="505.1" r="1.15" fill="#1e1e1e"/>
<rect x="479.2" y="480.4" width="12.2" height="56.200000000000045" fill="#a8022c" stroke="#5a0018" stroke-width="0.5"/>
<line x1="485.5" y1="474.2" x2="485.5" y2="480.4" stroke="#222" stroke-width="1.3" />
<line x1="482.5" y1="474.5" x2="488.1" y2="474.5" stroke="#222" stroke-width="1.2" />
<rect x="497.4" y="526.5" width="12.2" height="10.100000000000023" fill="#2f4b80" stroke="#17264a" stroke-width="0.5"/>
<line x1="503.5" y1="524.2" x2="503.5" y2="526.5" stroke="#222" stroke-width="1.3" />
<line x1="500.7" y1="524.5" x2="506.3" y2="524.5" stroke="#222" stroke-width="1.2" />
<circle cx="499.85" cy="519.6" r="1.15" fill="#1e1e1e"/>
<circle cx="503.50" cy="519.6" r="1.15" fill="#1e1e1e"/>
<circle cx="507.15" cy="519.6" r="1.15" fill="#1e1e1e"/>
<line x1="400.0" y1="536.6" x2="513.0" y2="536.6" stroke="#151515" stroke-width="1.5" />
<line x1="411.7" y1="536.6" x2="411.7" y2="540.0" stroke="#151515" stroke-width="1.2" />
<line x1="430.2" y1="536.6" x2="430.2" y2="540.0" stroke="#151515" stroke-width="1.2" />
<line x1="448.3" y1="536.6" x2="448.3" y2="540.0" stroke="#151515" stroke-width="1.2" />
<line x1="466.7" y1="536.6" x2="466.7" y2="540.0" stroke="#151515" stroke-width="1.2" />
<line x1="485.3" y1="536.6" x2="485.3" y2="540.0" stroke="#151515" stroke-width="1.2" />
<line x1="503.5" y1="536.6" x2="503.5" y2="540.0" stroke="#151515" stroke-width="1.2" />
<line x1="405.1" y1="461.9" x2="436.9" y2="461.9" stroke="#3a3a3a" stroke-width="1.2" />
<text x="421.6" y="459.29999999999995" font-size="5.8" text-anchor="middle" >IV (Ortho)</text>
<line x1="441.1" y1="461.9" x2="473.4" y2="461.9" stroke="#3a3a3a" stroke-width="1.2" />
<text x="457.2" y="459.29999999999995" font-size="5.8" text-anchor="middle" >V (Retic)</text>
<line x1="478.5" y1="461.9" x2="510.3" y2="461.9" stroke="#3a3a3a" stroke-width="1.2" />
<text x="494.4" y="459.29999999999995" font-size="5.8" text-anchor="middle" >VI (RBC)</text>
<text transform="translate(415.90,546.60) rotate(-45)" font-size="6.8" text-anchor="end">HNF1A<tspan font-size="4.4" dy="-2.58">+/+</tspan></text>
<text transform="translate(434.40,546.60) rotate(-45)" font-size="6.8" text-anchor="end">HNF1A<tspan font-size="4.4" dy="-2.58">-/-</tspan></text>
<text transform="translate(452.50,546.60) rotate(-45)" font-size="6.8" text-anchor="end">HNF1A<tspan font-size="4.4" dy="-2.58">+/+</tspan></text>
<text transform="translate(470.90,546.60) rotate(-45)" font-size="6.8" text-anchor="end">HNF1A<tspan font-size="4.4" dy="-2.58">-/-</tspan></text>
<text transform="translate(489.50,546.60) rotate(-45)" font-size="6.8" text-anchor="end">HNF1A<tspan font-size="4.4" dy="-2.58">+/+</tspan></text>
<text transform="translate(507.70,546.60) rotate(-45)" font-size="6.8" text-anchor="end">HNF1A<tspan font-size="4.4" dy="-2.58">-/-</tspan></text>
<text transform="translate(369.0,498.2) rotate(-90)" font-size="8.5" text-anchor="middle" textLength="88.5" lengthAdjust="spacingAndGlyphs" >Total cell numbers/spleen</text>
<text x="122.1" y="316.3" font-size="8.0" text-anchor="middle" textLength="25" lengthAdjust="spacingAndGlyphs" >Spleen</text>
<line x1="55.4" y1="321.5" x2="189.6" y2="321.5" stroke="#151515" stroke-width="1.2" />
<text x="70.8" y="333.8" font-size="6.6" textLength="21.5" lengthAdjust="spacingAndGlyphs">HNF1A</text><text x="92.6" y="331.2" font-size="4">+/+</text>
<text x="144.6" y="333.8" font-size="6.6" textLength="21.5" lengthAdjust="spacingAndGlyphs">HNF1A</text><text x="166.4" y="331.2" font-size="4">-/-</text>
<defs>
<filter id="bl" x="-20%" y="-20%" width="140%" height="140%"><feGaussianBlur stdDeviation="0.8"/></filter>
<filter id="bl2" x="-20%" y="-20%" width="140%" height="140%"><feGaussianBlur stdDeviation="0.55"/></filter>
<filter id="bl3" x="-20%" y="-20%" width="140%" height="140%"><feGaussianBlur stdDeviation="1.4"/></filter>
<clipPath id="c1"><rect x="55.6" y="338.4" width="60.4" height="55.2"/></clipPath>
<clipPath id="c2"><rect x="128.4" y="338.3" width="60.3" height="55.5"/></clipPath>
<clipPath id="c3"><rect x="55.6" y="424.6" width="60.1" height="56"/></clipPath>
<clipPath id="c4"><rect x="128.7" y="424.3" width="60" height="56.3"/></clipPath>
</defs>
<rect x="55.6" y="338.4" width="60.4" height="55.2" fill="none" stroke="#d4d4d4" stroke-width="0.8"/>
<rect x="128.4" y="338.3" width="60.3" height="55.5" fill="none" stroke="#d4d4d4" stroke-width="0.8"/>
<rect x="55.6" y="424.6" width="60.1" height="56" fill="none" stroke="#d4d4d4" stroke-width="0.8"/>
<rect x="128.7" y="424.3" width="60" height="56.3" fill="none" stroke="#d4d4d4" stroke-width="0.8"/>
<g clip-path="url(#c1)">
<path d="M56.5,378 L58,373 L62,367 L67,364.5 L74,364 L78,364.5 L78,393.6 L56.5,393.6 Z" fill="#9cb0ff" opacity="0.55" filter="url(#bl3)"/>
<path d="M78,351.5 L93.3,351.5 L93.3,393.6 L78,393.6 Z" fill="#aebcff" opacity="0.3" filter="url(#bl3)"/>
<g opacity="0.85"><circle cx="63.5" cy="368.5" r="0.42" fill="#1a30d0"/><circle cx="58.1" cy="379.9" r="0.42" fill="#3c64f0"/><circle cx="69.0" cy="390.9" r="0.42" fill="#2848e8"/><circle cx="57.3" cy="376.8" r="0.42" fill="#1a30d0"/><circle cx="61.7" cy="380.3" r="0.42" fill="#1a30d0"/><circle cx="74.3" cy="367.7" r="0.42" fill="#2848e8"/><circle cx="70.1" cy="381.3" r="0.42" fill="#1a30d0"/><circle cx="68.9" cy="375.7" r="0.42" fill="#2848e8"/><circle cx="57.5" cy="389.4" r="0.42" fill="#3c64f0"/><circle cx="65.5" cy="380.0" r="0.42" fill="#20b0d0"/><circle cx="63.1" cy="388.2" r="0.42" fill="#2848e8"/><circle cx="58.7" cy="380.9" r="0.42" fill="#2848e8"/><circle cx="64.5" cy="380.2" r="0.42" fill="#1a30d0"/><circle cx="68.6" cy="382.3" r="0.42" fill="#5a80ff"/><circle cx="71.1" cy="376.7" r="0.42" fill="#3c64f0"/><circle cx="66.5" cy="391.3" r="0.42" fill="#3c64f0"/><circle cx="62.9" cy="387.5" r="0.42" fill="#2848e8"/><circle cx="58.3" cy="372.9" r="0.42" fill="#5a80ff"/><circle cx="75.3" cy="385.6" r="0.42" fill="#3c64f0"/><circle cx="69.6" cy="366.2" r="0.42" fill="#20b0d0"/><circle cx="65.5" cy="386.4" r="0.42" fill="#2848e8"/><circle cx="76.6" cy="376.5" r="0.42" fill="#1a30d0"/><circle cx="72.9" cy="381.0" r="0.42" fill="#3c64f0"/><circle cx="63.8" cy="374.4" r="0.42" fill="#5a80ff"/><circle cx="69.0" cy="377.5" r="0.42" fill="#1a30d0"/><circle cx="76.8" cy="378.0" r="0.42" fill="#1a30d0"/><circle cx="57.8" cy="384.8" r="0.42" fill="#20b0d0"/><circle cx="77.9" cy="388.3" r="0.42" fill="#3c64f0"/><circle cx="71.9" cy="390.3" r="0.42" fill="#3c64f0"/><circle cx="57.0" cy="377.7" r="0.42" fill="#2848e8"/><circle cx="69.6" cy="378.6" r="0.42" fill="#2848e8"/><circle cx="73.0" cy="367.8" r="0.42" fill="#2848e8"/><circle cx="65.1" cy="391.1" r="0.42" fill="#5a80ff"/><circle cx="58.2" cy="377.3" r="0.42" fill="#20b0d0"/><circle cx="62.5" cy="368.1" r="0.42" fill="#5a80ff"/><circle cx="75.1" cy="372.2" r="0.42" fill="#5a80ff"/><circle cx="77.7" cy="384.2" r="0.42" fill="#5a80ff"/><circle cx="77.1" cy="368.5" r="0.42" fill="#2848e8"/><circle cx="59.8" cy="383.5" r="0.42" fill="#1a30d0"/><circle cx="66.9" cy="381.4" r="0.42" fill="#3c64f0"/><circle cx="62.6" cy="368.3" r="0.42" fill="#20b0d0"/><circle cx="64.4" cy="380.8" r="0.42" fill="#2848e8"/><circle cx="71.3" cy="379.3" r="0.42" fill="#20b0d0"/><circle cx="70.6" cy="385.9" r="0.42" fill="#5a80ff"/><circle cx="75.8" cy="387.1" r="0.42" fill="#20b0d0"/><circle cx="64.9" cy="375.8" r="0.42" fill="#1a30d0"/><circle cx="66.9" cy="375.9" r="0.42" fill="#2848e8"/><circle cx="60.0" cy="374.1" r="0.42" fill="#1a30d0"/><circle cx="58.7" cy="380.8" r="0.42" fill="#20b0d0"/><circle cx="58.7" cy="374.8" r="0.42" fill="#1a30d0"/><circle cx="64.6" cy="382.8" r="0.42" fill="#3c64f0"/><circle cx="69.4" cy="378.0" r="0.42" fill="#1a30d0"/><circle cx="74.8" cy="393.4" r="0.42" fill="#5a80ff"/><circle cx="66.8" cy="373.2" r="0.42" fill="#2848e8"/><circle cx="58.7" cy="374.1" r="0.42" fill="#3c64f0"/><circle cx="66.8" cy="384.5" r="0.42" fill="#20b0d0"/><circle cx="57.0" cy="392.1" r="0.42" fill="#20b0d0"/><circle cx="64.3" cy="384.4" r="0.42" fill="#1a30d0"/><circle cx="72.8" cy="372.8" r="0.42" fill="#1a30d0"/><circle cx="71.5" cy="371.7" r="0.42" fill="#3c64f0"/><circle cx="76.0" cy="374.5" r="0.42" fill="#2848e8"/><circle cx="68.0" cy="387.1" r="0.42" fill="#3c64f0"/><circle cx="70.2" cy="382.2" r="0.42" fill="#2848e8"/><circle cx="73.8" cy="388.2" r="0.42" fill="#2848e8"/><circle cx="60.8" cy="378.6" r="0.42" fill="#1a30d0"/><circle cx="77.8" cy="387.4" r="0.42" fill="#5a80ff"/><circle cx="62.1" cy="384.5" r="0.42" fill="#3c64f0"/><circle cx="66.1" cy="391.7" r="0.42" fill="#3c64f0"/><circle cx="77.0" cy="374.8" r="0.42" fill="#2848e8"/><circle cx="58.7" cy="377.9" r="0.42" fill="#3c64f0"/><circle cx="60.9" cy="382.5" r="0.42" fill="#20b0d0"/><circle cx="74.6" cy="378.2" r="0.42" fill="#3c64f0"/><circle cx="73.7" cy="366.5" r="0.42" fill="#1a30d0"/><circle cx="76.1" cy="387.2" r="0.42" fill="#2848e8"/><circle cx="66.8" cy="369.3" r="0.42" fill="#3c64f0"/><circle cx="58.4" cy="392.0" r="0.42" fill="#5a80ff"/><circle cx="66.5" cy="386.0" r="0.42" fill="#1a30d0"/><circle cx="72.1" cy="369.0" r="0.42" fill="#2848e8"/><circle cx="57.1" cy="381.5" r="0.42" fill="#5a80ff"/><circle cx="73.8" cy="368.3" r="0.42" fill="#20b0d0"/><circle cx="77.6" cy="383.5" r="0.42" fill="#3c64f0"/><circle cx="59.9" cy="380.2" r="0.42" fill="#1a30d0"/><circle cx="56.8" cy="392.7" r="0.42" fill="#1a30d0"/><circle cx="67.8" cy="391.6" r="0.42" fill="#5a80ff"/><circle cx="77.7" cy="369.8" r="0.42" fill="#2848e8"/><circle cx="67.3" cy="386.6" r="0.42" fill="#3c64f0"/><circle cx="62.1" cy="376.4" r="0.42" fill="#2848e8"/><circle cx="57.8" cy="385.9" r="0.42" fill="#5a80ff"/><circle cx="70.7" cy="388.1" r="0.42" fill="#20b0d0"/><circle cx="65.5" cy="391.2" r="0.42" fill="#20b0d0"/><circle cx="67.5" cy="389.8" r="0.42" fill="#2848e8"/><circle cx="69.6" cy="387.0" r="0.42" fill="#2848e8"/><circle cx="60.2" cy="378.0" r="0.42" fill="#1a30d0"/><circle cx="68.5" cy="373.6" r="0.42" fill="#20b0d0"/><circle cx="67.9" cy="378.3" r="0.42" fill="#1a30d0"/><circle cx="75.5" cy="365.7" r="0.42" fill="#2848e8"/><circle cx="62.5" cy="386.9" r="0.42" fill="#20b0d0"/><circle cx="75.7" cy="365.9" r="0.42" fill="#3c64f0"/><circle cx="69.7" cy="379.0" r="0.42" fill="#20b0d0"/><circle cx="60.8" cy="372.2" r="0.42" fill="#20b0d0"/><circle cx="68.0" cy="378.1" r="0.42" fill="#2848e8"/><circle cx="71.5" cy="389.9" r="0.42" fill="#3c64f0"/><circle cx="76.3" cy="390.4" r="0.42" fill="#2848e8"/><circle cx="74.6" cy="368.1" r="0.42" fill="#1a30d0"/><circle cx="64.9" cy="373.4" r="0.42" fill="#2848e8"/><circle cx="65.7" cy="370.3" r="0.42" fill="#3c64f0"/><circle cx="73.4" cy="390.6" r="0.42" fill="#2848e8"/><circle cx="76.7" cy="383.0" r="0.42" fill="#3c64f0"/><circle cx="59.6" cy="390.1" r="0.42" fill="#5a80ff"/><circle cx="61.2" cy="392.2" r="0.42" fill="#5a80ff"/><circle cx="75.5" cy="368.8" r="0.42" fill="#2848e8"/><circle cx="60.0" cy="376.8" r="0.42" fill="#20b0d0"/><circle cx="65.2" cy="376.5" r="0.42" fill="#3c64f0"/><circle cx="63.3" cy="385.4" r="0.42" fill="#1a30d0"/><circle cx="63.8" cy="377.6" r="0.42" fill="#1a30d0"/><circle cx="64.8" cy="379.3" r="0.42" fill="#3c64f0"/><circle cx="67.5" cy="365.9" r="0.42" fill="#2848e8"/><circle cx="77.4" cy="367.1" r="0.42" fill="#3c64f0"/><circle cx="62.3" cy="390.8" r="0.42" fill="#2848e8"/><circle cx="62.3" cy="367.8" r="0.42" fill="#5a80ff"/><circle cx="74.8" cy="384.0" r="0.42" fill="#3c64f0"/><circle cx="65.2" cy="379.9" r="0.42" fill="#20b0d0"/><circle cx="68.8" cy="384.7" r="0.42" fill="#1a30d0"/><circle cx="62.5" cy="387.7" r="0.42" fill="#2848e8"/><circle cx="65.6" cy="366.1" r="0.42" fill="#1a30d0"/><circle cx="70.1" cy="387.7" r="0.42" fill="#1a30d0"/><circle cx="69.6" cy="370.6" r="0.42" fill="#3c64f0"/><circle cx="75.0" cy="377.4" r="0.42" fill="#3c64f0"/><circle cx="77.9" cy="376.4" r="0.42" fill="#3c64f0"/><circle cx="69.9" cy="365.3" r="0.42" fill="#2848e8"/><circle cx="76.7" cy="392.7" r="0.42" fill="#3c64f0"/><circle cx="63.2" cy="373.0" r="0.42" fill="#2848e8"/><circle cx="62.7" cy="378.8" r="0.42" fill="#2848e8"/><circle cx="62.3" cy="387.8" r="0.42" fill="#3c64f0"/><circle cx="67.4" cy="393.0" r="0.42" fill="#20b0d0"/><circle cx="66.7" cy="391.7" r="0.42" fill="#1a30d0"/><circle cx="70.7" cy="383.2" r="0.42" fill="#5a80ff"/><circle cx="68.2" cy="390.3" r="0.42" fill="#20b0d0"/><circle cx="63.1" cy="370.4" r="0.42" fill="#2848e8"/><circle cx="63.9" cy="388.6" r="0.42" fill="#2848e8"/><circle cx="65.2" cy="374.3" r="0.42" fill="#1a30d0"/><circle cx="74.5" cy="364.4" r="0.42" fill="#3c64f0"/><circle cx="65.8" cy="365.6" r="0.42" fill="#5a80ff"/><circle cx="75.2" cy="383.8" r="0.42" fill="#3c64f0"/><circle cx="69.4" cy="384.5" r="0.42" fill="#1a30d0"/><circle cx="66.4" cy="368.7" r="0.42" fill="#5a80ff"/><circle cx="63.6" cy="393.2" r="0.42" fill="#3c64f0"/><circle cx="61.8" cy="392.6" r="0.42" fill="#3c64f0"/><circle cx="61.2" cy="369.4" r="0.42" fill="#3c64f0"/><circle cx="64.7" cy="378.0" r="0.42" fill="#20b0d0"/><circle cx="70.6" cy="371.3" r="0.42" fill="#1a30d0"/><circle cx="58.5" cy="388.2" r="0.42" fill="#2848e8"/><circle cx="61.5" cy="381.3" r="0.42" fill="#20b0d0"/><circle cx="74.8" cy="368.6" r="0.42" fill="#20b0d0"/><circle cx="64.9" cy="373.7" r="0.42" fill="#5a80ff"/><circle cx="59.7" cy="385.4" r="0.42" fill="#2848e8"/><circle cx="57.4" cy="388.7" r="0.42" fill="#20b0d0"/><circle cx="70.0" cy="385.7" r="0.42" fill="#20b0d0"/><circle cx="59.5" cy="379.5" r="0.42" fill="#20b0d0"/><circle cx="68.7" cy="388.1" r="0.42" fill="#1a30d0"/><circle cx="74.3" cy="381.3" r="0.42" fill="#2848e8"/><circle cx="70.2" cy="392.4" r="0.42" fill="#5a80ff"/><circle cx="74.5" cy="380.5" r="0.42" fill="#1a30d0"/><circle cx="70.0" cy="384.1" r="0.42" fill="#5a80ff"/><circle cx="62.2" cy="377.5" r="0.42" fill="#1a30d0"/><circle cx="72.6" cy="378.9" r="0.42" fill="#20b0d0"/><circle cx="58.5" cy="379.6" r="0.42" fill="#5a80ff"/><circle cx="62.2" cy="385.6" r="0.42" fill="#2848e8"/><circle cx="61.5" cy="383.2" r="0.42" fill="#5a80ff"/><circle cx="67.1" cy="375.3" r="0.42" fill="#5a80ff"/><circle cx="76.1" cy="372.5" r="0.42" fill="#1a30d0"/><circle cx="69.8" cy="383.0" r="0.42" fill="#1a30d0"/><circle cx="69.4" cy="373.8" r="0.42" fill="#3c64f0"/><circle cx="69.9" cy="367.9" r="0.42" fill="#5a80ff"/><circle cx="70.9" cy="384.5" r="0.42" fill="#5a80ff"/><circle cx="62.8" cy="379.3" r="0.42" fill="#5a80ff"/><circle cx="66.5" cy="386.7" r="0.42" fill="#20b0d0"/><circle cx="60.8" cy="393.0" r="0.42" fill="#5a80ff"/><circle cx="56.9" cy="377.6" r="0.42" fill="#20b0d0"/><circle cx="77.3" cy="377.3" r="0.42" fill="#3c64f0"/><circle cx="64.8" cy="391.1" r="0.42" fill="#2848e8"/><circle cx="72.6" cy="371.7" r="0.42" fill="#3c64f0"/><circle cx="59.4" cy="388.3" r="0.42" fill="#20b0d0"/><circle cx="62.5" cy="367.3" r="0.42" fill="#3c64f0"/><circle cx="61.5" cy="390.6" r="0.42" fill="#5a80ff"/><circle cx="65.0" cy="368.7" r="0.42" fill="#5a80ff"/><circle cx="71.2" cy="376.0" r="0.42" fill="#2848e8"/><circle cx="65.4" cy="375.1" r="0.42" fill="#1a30d0"/><circle cx="72.6" cy="388.8" r="0.42" fill="#1a30d0"/><circle cx="76.7" cy="369.8" r="0.42" fill="#1a30d0"/><circle cx="75.9" cy="372.6" r="0.42" fill="#3c64f0"/><circle cx="57.9" cy="375.5" r="0.42" fill="#20b0d0"/><circle cx="58.1" cy="391.4" r="0.42" fill="#3c64f0"/><circle cx="74.9" cy="372.3" r="0.42" fill="#1a30d0"/><circle cx="74.4" cy="372.5" r="0.42" fill="#2848e8"/><circle cx="61.9" cy="371.9" r="0.42" fill="#20b0d0"/><circle cx="63.3" cy="386.9" r="0.42" fill="#5a80ff"/><circle cx="75.5" cy="388.0" r="0.42" fill="#5a80ff"/><circle cx="76.1" cy="391.8" r="0.42" fill="#20b0d0"/><circle cx="76.6" cy="376.2" r="0.42" fill="#20b0d0"/><circle cx="72.7" cy="383.1" r="0.42" fill="#3c64f0"/><circle cx="66.9" cy="391.0" r="0.42" fill="#20b0d0"/><circle cx="59.2" cy="378.0" r="0.42" fill="#3c64f0"/><circle cx="62.6" cy="371.6" r="0.42" fill="#3c64f0"/><circle cx="65.2" cy="371.1" r="0.42" fill="#5a80ff"/><circle cx="68.5" cy="375.7" r="0.42" fill="#2848e8"/><circle cx="70.3" cy="366.2" r="0.42" fill="#20b0d0"/><circle cx="76.0" cy="378.7" r="0.42" fill="#2848e8"/><circle cx="66.2" cy="373.9" r="0.42" fill="#5a80ff"/><circle cx="65.7" cy="380.2" r="0.42" fill="#2848e8"/><circle cx="58.5" cy="374.1" r="0.42" fill="#1a30d0"/><circle cx="63.4" cy="374.9" r="0.42" fill="#20b0d0"/><circle cx="75.2" cy="375.3" r="0.42" fill="#20b0d0"/><circle cx="61.0" cy="372.0" r="0.42" fill="#1a30d0"/><circle cx="67.2" cy="381.0" r="0.42" fill="#3c64f0"/><circle cx="59.2" cy="378.9" r="0.42" fill="#2848e8"/><circle cx="58.5" cy="390.5" r="0.42" fill="#5a80ff"/><circle cx="65.1" cy="377.2" r="0.42" fill="#3c64f0"/><circle cx="74.7" cy="389.8" r="0.42" fill="#1a30d0"/><circle cx="59.2" cy="376.6" r="0.42" fill="#5a80ff"/><circle cx="77.3" cy="378.5" r="0.42" fill="#1a30d0"/><circle cx="64.9" cy="391.4" r="0.42" fill="#20b0d0"/><circle cx="74.9" cy="392.8" r="0.42" fill="#2848e8"/><circle cx="73.3" cy="370.6" r="0.42" fill="#2848e8"/><circle cx="67.7" cy="384.2" r="0.42" fill="#5a80ff"/><circle cx="58.3" cy="387.0" r="0.42" fill="#1a30d0"/><circle cx="73.3" cy="370.9" r="0.42" fill="#1a30d0"/><circle cx="70.4" cy="373.0" r="0.42" fill="#2848e8"/><circle cx="70.0" cy="379.6" r="0.42" fill="#5a80ff"/><circle cx="71.5" cy="367.3" r="0.42" fill="#1a30d0"/><circle cx="63.0" cy="391.9" r="0.42" fill="#2848e8"/><circle cx="64.8" cy="370.6" r="0.42" fill="#20b0d0"/><circle cx="56.5" cy="379.9" r="0.42" fill="#5a80ff"/><circle cx="62.5" cy="373.4" r="0.42" fill="#2848e8"/><circle cx="66.7" cy="370.9" r="0.42" fill="#2848e8"/><circle cx="57.1" cy="376.2" r="0.42" fill="#3c64f0"/><circle cx="75.5" cy="383.2" r="0.42" fill="#1a30d0"/><circle cx="62.0" cy="383.8" r="0.42" fill="#3c64f0"/><circle cx="63.8" cy="376.4" r="0.42" fill="#5a80ff"/><circle cx="60.8" cy="387.6" r="0.42" fill="#20b0d0"/><circle cx="57.9" cy="378.7" r="0.42" fill="#2848e8"/><circle cx="63.2" cy="388.3" r="0.42" fill="#2848e8"/><circle cx="66.5" cy="371.8" r="0.42" fill="#3c64f0"/><circle cx="58.8" cy="382.5" r="0.42" fill="#20b0d0"/><circle cx="60.5" cy="370.6" r="0.42" fill="#5a80ff"/><circle cx="76.1" cy="365.7" r="0.42" fill="#20b0d0"/><circle cx="59.6" cy="375.6" r="0.42" fill="#2848e8"/><circle cx="57.0" cy="381.6" r="0.42" fill="#5a80ff"/><circle cx="65.0" cy="390.6" r="0.42" fill="#3c64f0"/><circle cx="72.3" cy="393.5" r="0.42" fill="#2848e8"/><circle cx="63.6" cy="369.5" r="0.42" fill="#20b0d0"/><circle cx="72.5" cy="364.9" r="0.42" fill="#5a80ff"/><circle cx="74.5" cy="393.2" r="0.42" fill="#5a80ff"/><circle cx="62.5" cy="374.4" r="0.42" fill="#1a30d0"/><circle cx="68.6" cy="386.5" r="0.42" fill="#5a80ff"/><circle cx="64.2" cy="388.3" r="0.42" fill="#5a80ff"/><circle cx="58.4" cy="384.9" r="0.42" fill="#2848e8"/><circle cx="64.5" cy="391.2" r="0.42" fill="#2848e8"/><circle cx="63.5" cy="385.8" r="0.42" fill="#5a80ff"/><circle cx="57.2" cy="376.2" r="0.42" fill="#5a80ff"/><circle cx="57.8" cy="391.2" r="0.42" fill="#3c64f0"/><circle cx="69.5" cy="374.7" r="0.42" fill="#3c64f0"/><circle cx="77.1" cy="382.3" r="0.42" fill="#3c64f0"/><circle cx="72.5" cy="384.4" r="0.42" fill="#3c64f0"/><circle cx="62.9" cy="385.4" r="0.42" fill="#20b0d0"/><circle cx="76.2" cy="382.8" r="0.42" fill="#1a30d0"/><circle cx="66.7" cy="392.3" r="0.42" fill="#5a80ff"/><circle cx="73.5" cy="391.0" r="0.42" fill="#5a80ff"/><circle cx="59.4" cy="378.7" r="0.42" fill="#1a30d0"/><circle cx="73.8" cy="385.9" r="0.42" fill="#2848e8"/><circle cx="69.6" cy="373.7" r="0.42" fill="#3c64f0"/><circle cx="66.4" cy="387.2" r="0.42" fill="#20b0d0"/><circle cx="72.7" cy="371.3" r="0.42" fill="#1a30d0"/><circle cx="70.5" cy="378.3" r="0.42" fill="#20b0d0"/><circle cx="63.5" cy="393.0" r="0.42" fill="#1a30d0"/><circle cx="77.7" cy="371.8" r="0.42" fill="#1a30d0"/><circle cx="61.0" cy="376.5" r="0.42" fill="#5a80ff"/><circle cx="66.4" cy="390.4" r="0.42" fill="#2848e8"/><circle cx="72.6" cy="389.1" r="0.42" fill="#1a30d0"/><circle cx="73.3" cy="372.7" r="0.42" fill="#3c64f0"/><circle cx="68.7" cy="375.0" r="0.42" fill="#3c64f0"/><circle cx="60.8" cy="371.3" r="0.42" fill="#2848e8"/><circle cx="61.6" cy="372.3" r="0.42" fill="#20b0d0"/><circle cx="61.9" cy="371.3" r="0.42" fill="#20b0d0"/><circle cx="61.5" cy="387.9" r="0.42" fill="#5a80ff"/><circle cx="77.8" cy="367.0" r="0.42" fill="#5a80ff"/><circle cx="75.5" cy="370.8" r="0.42" fill="#5a80ff"/><circle cx="76.2" cy="365.2" r="0.42" fill="#3c64f0"/><circle cx="69.4" cy="388.5" r="0.42" fill="#2848e8"/><circle cx="76.5" cy="375.0" r="0.42" fill="#2848e8"/><circle cx="66.2" cy="371.7" r="0.42" fill="#1a30d0"/><circle cx="58.8" cy="381.6" r="0.42" fill="#20b0d0"/><circle cx="78.0" cy="365.1" r="0.42" fill="#2848e8"/><circle cx="74.0" cy="388.2" r="0.42" fill="#5a80ff"/><circle cx="71.1" cy="369.5" r="0.42" fill="#3c64f0"/><circle cx="67.2" cy="378.3" r="0.42" fill="#5a80ff"/><circle cx="58.7" cy="375.7" r="0.42" fill="#20b0d0"/><circle cx="59.8" cy="379.8" r="0.42" fill="#2848e8"/><circle cx="65.1" cy="372.0" r="0.42" fill="#3c64f0"/><circle cx="70.9" cy="376.4" r="0.42" fill="#1a30d0"/><circle cx="63.2" cy="380.8" r="0.42" fill="#3c64f0"/><circle cx="73.0" cy="387.7" r="0.42" fill="#2848e8"/><circle cx="64.9" cy="376.0" r="0.42" fill="#1a30d0"/><circle cx="65.8" cy="368.6" r="0.42" fill="#1a30d0"/><circle cx="74.1" cy="376.0" r="0.42" fill="#3c64f0"/><circle cx="66.4" cy="368.8" r="0.42" fill="#1a30d0"/><circle cx="73.8" cy="375.7" r="0.42" fill="#20b0d0"/><circle cx="69.9" cy="375.0" r="0.42" fill="#20b0d0"/><circle cx="60.2" cy="374.3" r="0.42" fill="#2848e8"/><circle cx="67.7" cy="391.4" r="0.42" fill="#1a30d0"/><circle cx="64.8" cy="386.3" r="0.42" fill="#2848e8"/><circle cx="63.0" cy="388.8" r="0.42" fill="#1a30d0"/><circle cx="77.5" cy="378.3" r="0.42" fill="#1a30d0"/><circle cx="69.6" cy="382.8" r="0.42" fill="#1a30d0"/><circle cx="75.9" cy="382.4" r="0.42" fill="#2848e8"/><circle cx="70.3" cy="389.4" r="0.42" fill="#20b0d0"/><circle cx="65.2" cy="389.1" r="0.42" fill="#5a80ff"/><circle cx="60.4" cy="370.5" r="0.42" fill="#5a80ff"/><circle cx="76.7" cy="368.6" r="0.42" fill="#3c64f0"/><circle cx="59.1" cy="371.3" r="0.42" fill="#2848e8"/><circle cx="57.4" cy="380.6" r="0.42" fill="#1a30d0"/><circle cx="70.9" cy="373.6" r="0.42" fill="#5a80ff"/><circle cx="69.4" cy="380.3" r="0.42" fill="#3c64f0"/><circle cx="70.5" cy="373.1" r="0.42" fill="#2848e8"/><circle cx="65.7" cy="383.5" r="0.42" fill="#5a80ff"/><circle cx="67.3" cy="369.3" r="0.42" fill="#1a30d0"/><circle cx="69.8" cy="378.5" r="0.42" fill="#2848e8"/><circle cx="66.1" cy="382.3" r="0.42" fill="#5a80ff"/><circle cx="74.5" cy="388.0" r="0.42" fill="#5a80ff"/><circle cx="65.8" cy="366.7" r="0.42" fill="#5a80ff"/><circle cx="67.3" cy="383.5" r="0.42" fill="#1a30d0"/><circle cx="70.2" cy="366.4" r="0.42" fill="#3c64f0"/><circle cx="73.2" cy="379.1" r="0.42" fill="#1a30d0"/><circle cx="72.7" cy="390.5" r="0.42" fill="#2848e8"/><circle cx="69.7" cy="384.5" r="0.42" fill="#1a30d0"/><circle cx="60.7" cy="393.1" r="0.42" fill="#5a80ff"/><circle cx="62.7" cy="388.0" r="0.42" fill="#2848e8"/><circle cx="71.3" cy="385.3" r="0.42" fill="#2848e8"/><circle cx="57.9" cy="374.4" r="0.42" fill="#3c64f0"/><circle cx="59.9" cy="390.5" r="0.42" fill="#3c64f0"/><circle cx="76.0" cy="377.5" r="0.42" fill="#3c64f0"/><circle cx="67.3" cy="391.2" r="0.42" fill="#2848e8"/><circle cx="69.2" cy="382.2" r="0.42" fill="#2848e8"/><circle cx="76.6" cy="384.1" r="0.42" fill="#5a80ff"/><circle cx="60.1" cy="387.2" r="0.42" fill="#1a30d0"/><circle cx="73.0" cy="365.4" r="0.42" fill="#3c64f0"/><circle cx="77.3" cy="377.4" r="0.42" fill="#20b0d0"/><circle cx="69.0" cy="390.1" r="0.42" fill="#1a30d0"/><circle cx="61.9" cy="379.9" r="0.42" fill="#5a80ff"/><circle cx="72.4" cy="375.0" r="0.42" fill="#5a80ff"/><circle cx="77.8" cy="381.1" r="0.42" fill="#3c64f0"/><circle cx="63.6" cy="366.4" r="0.42" fill="#2848e8"/><circle cx="60.3" cy="386.0" r="0.42" fill="#1a30d0"/><circle cx="62.9" cy="379.3" r="0.42" fill="#3c64f0"/><circle cx="70.2" cy="393.1" r="0.42" fill="#20b0d0"/><circle cx="76.5" cy="390.5" r="0.42" fill="#1a30d0"/><circle cx="72.6" cy="370.6" r="0.42" fill="#3c64f0"/><circle cx="69.7" cy="376.8" r="0.42" fill="#20b0d0"/><circle cx="67.0" cy="382.1" r="0.42" fill="#1a30d0"/><circle cx="64.1" cy="367.1" r="0.42" fill="#3c64f0"/><circle cx="68.0" cy="376.2" r="0.42" fill="#3c64f0"/><circle cx="69.2" cy="370.0" r="0.42" fill="#20b0d0"/><circle cx="74.3" cy="368.7" r="0.42" fill="#1a30d0"/><circle cx="76.6" cy="371.2" r="0.42" fill="#2848e8"/><circle cx="66.2" cy="365.9" r="0.42" fill="#2848e8"/><circle cx="75.2" cy="387.2" r="0.42" fill="#5a80ff"/><circle cx="73.9" cy="392.6" r="0.42" fill="#1a30d0"/><circle cx="70.4" cy="380.6" r="0.42" fill="#3c64f0"/><circle cx="69.3" cy="381.1" r="0.42" fill="#20b0d0"/><circle cx="76.6" cy="385.7" r="0.42" fill="#2848e8"/><circle cx="76.1" cy="367.1" r="0.42" fill="#20b0d0"/><circle cx="68.3" cy="391.9" r="0.42" fill="#2848e8"/><circle cx="65.4" cy="379.3" r="0.42" fill="#20b0d0"/><circle cx="70.4" cy="376.3" r="0.42" fill="#20b0d0"/><circle cx="60.3" cy="373.2" r="0.42" fill="#3c64f0"/><circle cx="70.0" cy="393.4" r="0.42" fill="#5a80ff"/><circle cx="71.9" cy="364.2" r="0.42" fill="#5a80ff"/><circle cx="72.5" cy="377.8" r="0.42" fill="#5a80ff"/><circle cx="60.3" cy="393.5" r="0.42" fill="#3c64f0"/><circle cx="63.7" cy="386.2" r="0.42" fill="#3c64f0"/><circle cx="71.8" cy="371.9" r="0.42" fill="#20b0d0"/><circle cx="71.1" cy="384.3" r="0.42" fill="#20b0d0"/><circle cx="77.4" cy="372.8" r="0.42" fill="#2848e8"/><circle cx="58.3" cy="379.0" r="0.42" fill="#2848e8"/><circle cx="62.1" cy="371.0" r="0.42" fill="#2848e8"/><circle cx="76.8" cy="386.1" r="0.42" fill="#3c64f0"/><circle cx="60.6" cy="375.5" r="0.42" fill="#20b0d0"/><circle cx="61.6" cy="390.9" r="0.42" fill="#20b0d0"/><circle cx="66.6" cy="388.9" r="0.42" fill="#1a30d0"/><circle cx="74.9" cy="376.9" r="0.42" fill="#2848e8"/><circle cx="68.8" cy="373.1" r="0.42" fill="#2848e8"/><circle cx="64.9" cy="381.3" r="0.42" fill="#20b0d0"/><circle cx="76.1" cy="368.3" r="0.42" fill="#1a30d0"/><circle cx="58.9" cy="382.4" r="0.42" fill="#2848e8"/><circle cx="63.9" cy="368.2" r="0.42" fill="#1a30d0"/><circle cx="70.3" cy="365.3" r="0.42" fill="#1a30d0"/><circle cx="72.3" cy="365.9" r="0.42" fill="#20b0d0"/><circle cx="72.9" cy="369.9" r="0.42" fill="#20b0d0"/><circle cx="75.7" cy="366.0" r="0.42" fill="#5a80ff"/><circle cx="74.7" cy="388.0" r="0.42" fill="#1a30d0"/><circle cx="74.2" cy="382.7" r="0.42" fill="#3c64f0"/><circle cx="66.8" cy="367.9" r="0.42" fill="#2848e8"/><circle cx="62.8" cy="374.0" r="0.42" fill="#3c64f0"/><circle cx="62.6" cy="385.2" r="0.42" fill="#3c64f0"/><circle cx="76.1" cy="386.8" r="0.42" fill="#20b0d0"/><circle cx="67.3" cy="389.2" r="0.42" fill="#20b0d0"/><circle cx="72.5" cy="387.4" r="0.42" fill="#1a30d0"/><circle cx="65.9" cy="386.9" r="0.42" fill="#3c64f0"/><circle cx="66.6" cy="365.4" r="0.42" fill="#20b0d0"/><circle cx="61.2" cy="389.5" r="0.42" fill="#1a30d0"/><circle cx="68.9" cy="372.5" r="0.42" fill="#5a80ff"/><circle cx="72.9" cy="392.9" r="0.42" fill="#1a30d0"/><circle cx="64.0" cy="366.8" r="0.42" fill="#2848e8"/><circle cx="77.3" cy="381.5" r="0.42" fill="#20b0d0"/><circle cx="62.1" cy="391.9" r="0.42" fill="#3c64f0"/><circle cx="74.0" cy="391.8" r="0.42" fill="#2848e8"/><circle cx="67.2" cy="367.3" r="0.42" fill="#1a30d0"/><circle cx="67.0" cy="393.3" r="0.42" fill="#20b0d0"/><circle cx="73.4" cy="382.6" r="0.42" fill="#3c64f0"/><circle cx="58.5" cy="391.5" r="0.42" fill="#1a30d0"/></g>
<g opacity="0.85"><circle cx="84.5" cy="378.7" r="0.42" fill="#3c64f0"/><circle cx="81.2" cy="362.6" r="0.42" fill="#20b0d0"/><circle cx="85.7" cy="367.5" r="0.42" fill="#2848e8"/><circle cx="92.4" cy="356.8" r="0.42" fill="#20b0d0"/><circle cx="89.5" cy="383.2" r="0.42" fill="#1a30d0"/><circle cx="83.3" cy="365.3" r="0.42" fill="#2848e8"/><circle cx="91.3" cy="370.5" r="0.42" fill="#20b0d0"/><circle cx="89.4" cy="358.6" r="0.42" fill="#5a80ff"/><circle cx="88.5" cy="362.3" r="0.42" fill="#2848e8"/><circle cx="79.9" cy="371.0" r="0.42" fill="#2848e8"/><circle cx="85.8" cy="362.8" r="0.42" fill="#20b0d0"/><circle cx="80.4" cy="358.1" r="0.42" fill="#2848e8"/><circle cx="89.1" cy="376.9" r="0.42" fill="#3c64f0"/><circle cx="80.5" cy="365.3" r="0.42" fill="#2848e8"/><circle cx="82.0" cy="391.7" r="0.42" fill="#1a30d0"/><circle cx="80.5" cy="379.2" r="0.42" fill="#2848e8"/><circle cx="83.9" cy="392.9" r="0.42" fill="#3c64f0"/><circle cx="89.2" cy="369.8" r="0.42" fill="#2848e8"/><circle cx="79.7" cy="389.9" r="0.42" fill="#3c64f0"/><circle cx="81.2" cy="367.8" r="0.42" fill="#1a30d0"/><circle cx="78.2" cy="387.5" r="0.42" fill="#5a80ff"/><circle cx="88.6" cy="372.6" r="0.42" fill="#3c64f0"/><circle cx="85.1" cy="357.5" r="0.42" fill="#20b0d0"/><circle cx="89.3" cy="351.7" r="0.42" fill="#2848e8"/><circle cx="91.9" cy="369.6" r="0.42" fill="#20b0d0"/><circle cx="87.0" cy="378.7" r="0.42" fill="#2848e8"/><circle cx="88.2" cy="379.0" r="0.42" fill="#20b0d0"/><circle cx="91.0" cy="380.1" r="0.42" fill="#1a30d0"/><circle cx="84.9" cy="364.7" r="0.42" fill="#1a30d0"/><circle cx="91.7" cy="361.7" r="0.42" fill="#5a80ff"/><circle cx="88.9" cy="378.0" r="0.42" fill="#3c64f0"/><circle cx="91.0" cy="371.8" r="0.42" fill="#1a30d0"/><circle cx="87.5" cy="368.7" r="0.42" fill="#2848e8"/><circle cx="91.7" cy="365.3" r="0.42" fill="#1a30d0"/><circle cx="83.9" cy="372.1" r="0.42" fill="#1a30d0"/><circle cx="78.6" cy="374.4" r="0.42" fill="#2848e8"/><circle cx="89.0" cy="391.6" r="0.42" fill="#2848e8"/><circle cx="85.9" cy="355.8" r="0.42" fill="#20b0d0"/><circle cx="85.0" cy="360.1" r="0.42" fill="#5a80ff"/><circle cx="85.8" cy="378.4" r="0.42" fill="#3c64f0"/><circle cx="86.0" cy="368.8" r="0.42" fill="#5a80ff"/><circle cx="81.2" cy="380.3" r="0.42" fill="#5a80ff"/><circle cx="85.9" cy="390.8" r="0.42" fill="#20b0d0"/><circle cx="83.4" cy="353.9" r="0.42" fill="#3c64f0"/><circle cx="83.8" cy="354.1" r="0.42" fill="#1a30d0"/><circle cx="84.4" cy="369.2" r="0.42" fill="#3c64f0"/><circle cx="86.9" cy="356.1" r="0.42" fill="#3c64f0"/><circle cx="89.3" cy="391.1" r="0.42" fill="#20b0d0"/><circle cx="92.9" cy="393.4" r="0.42" fill="#5a80ff"/><circle cx="85.1" cy="358.4" r="0.42" fill="#1a30d0"/><circle cx="90.4" cy="378.2" r="0.42" fill="#5a80ff"/><circle cx="87.8" cy="381.8" r="0.42" fill="#2848e8"/><circle cx="83.4" cy="378.4" r="0.42" fill="#5a80ff"/><circle cx="85.2" cy="363.9" r="0.42" fill="#20b0d0"/><circle cx="87.9" cy="384.3" r="0.42" fill="#5a80ff"/><circle cx="83.4" cy="387.3" r="0.42" fill="#3c64f0"/><circle cx="88.8" cy="380.4" r="0.42" fill="#5a80ff"/><circle cx="88.4" cy="371.8" r="0.42" fill="#3c64f0"/><circle cx="83.5" cy="379.1" r="0.42" fill="#3c64f0"/><circle cx="85.3" cy="369.5" r="0.42" fill="#1a30d0"/><circle cx="88.1" cy="366.8" r="0.42" fill="#3c64f0"/><circle cx="91.1" cy="353.9" r="0.42" fill="#20b0d0"/><circle cx="91.9" cy="384.5" r="0.42" fill="#2848e8"/><circle cx="86.1" cy="366.0" r="0.42" fill="#20b0d0"/><circle cx="78.2" cy="352.0" r="0.42" fill="#1a30d0"/><circle cx="88.0" cy="362.0" r="0.42" fill="#1a30d0"/><circle cx="86.9" cy="387.5" r="0.42" fill="#2848e8"/><circle cx="89.9" cy="366.1" r="0.42" fill="#2848e8"/><circle cx="81.2" cy="368.4" r="0.42" fill="#20b0d0"/><circle cx="80.6" cy="389.0" r="0.42" fill="#20b0d0"/><circle cx="93.0" cy="355.3" r="0.42" fill="#20b0d0"/><circle cx="90.1" cy="386.8" r="0.42" fill="#2848e8"/><circle cx="85.6" cy="360.5" r="0.42" fill="#1a30d0"/><circle cx="89.4" cy="370.0" r="0.42" fill="#1a30d0"/><circle cx="86.5" cy="362.6" r="0.42" fill="#2848e8"/><circle cx="90.7" cy="371.4" r="0.42" fill="#20b0d0"/><circle cx="78.9" cy="371.2" r="0.42" fill="#2848e8"/><circle cx="88.7" cy="361.9" r="0.42" fill="#2848e8"/><circle cx="86.3" cy="387.8" r="0.42" fill="#1a30d0"/><circle cx="80.5" cy="365.0" r="0.42" fill="#20b0d0"/><circle cx="85.6" cy="364.0" r="0.42" fill="#5a80ff"/><circle cx="83.7" cy="369.1" r="0.42" fill="#1a30d0"/><circle cx="80.8" cy="366.7" r="0.42" fill="#1a30d0"/><circle cx="78.3" cy="353.4" r="0.42" fill="#3c64f0"/><circle cx="90.4" cy="355.5" r="0.42" fill="#5a80ff"/><circle cx="85.4" cy="389.3" r="0.42" fill="#1a30d0"/><circle cx="81.3" cy="369.0" r="0.42" fill="#2848e8"/><circle cx="83.2" cy="387.8" r="0.42" fill="#3c64f0"/><circle cx="83.2" cy="384.3" r="0.42" fill="#20b0d0"/><circle cx="89.8" cy="360.4" r="0.42" fill="#5a80ff"/><circle cx="83.2" cy="362.1" r="0.42" fill="#1a30d0"/><circle cx="90.6" cy="363.8" r="0.42" fill="#5a80ff"/><circle cx="84.2" cy="372.7" r="0.42" fill="#3c64f0"/><circle cx="91.4" cy="366.0" r="0.42" fill="#2848e8"/><circle cx="88.0" cy="384.8" r="0.42" fill="#3c64f0"/><circle cx="80.9" cy="381.5" r="0.42" fill="#2848e8"/><circle cx="87.0" cy="378.2" r="0.42" fill="#1a30d0"/><circle cx="84.1" cy="374.8" r="0.42" fill="#5a80ff"/><circle cx="86.3" cy="353.6" r="0.42" fill="#3c64f0"/><circle cx="79.7" cy="353.5" r="0.42" fill="#5a80ff"/><circle cx="87.3" cy="379.2" r="0.42" fill="#20b0d0"/><circle cx="91.9" cy="377.3" r="0.42" fill="#20b0d0"/><circle cx="80.2" cy="379.9" r="0.42" fill="#20b0d0"/><circle cx="91.4" cy="355.0" r="0.42" fill="#1a30d0"/><circle cx="88.2" cy="370.8" r="0.42" fill="#2848e8"/><circle cx="79.6" cy="359.1" r="0.42" fill="#1a30d0"/><circle cx="84.5" cy="355.7" r="0.42" fill="#1a30d0"/><circle cx="83.6" cy="386.1" r="0.42" fill="#3c64f0"/><circle cx="86.6" cy="362.4" r="0.42" fill="#3c64f0"/><circle cx="80.8" cy="352.9" r="0.42" fill="#1a30d0"/><circle cx="84.6" cy="378.5" r="0.42" fill="#1a30d0"/><circle cx="85.6" cy="373.5" r="0.42" fill="#1a30d0"/><circle cx="89.8" cy="369.2" r="0.42" fill="#5a80ff"/><circle cx="84.8" cy="352.1" r="0.42" fill="#5a80ff"/><circle cx="87.1" cy="393.3" r="0.42" fill="#2848e8"/><circle cx="85.3" cy="368.9" r="0.42" fill="#1a30d0"/><circle cx="79.3" cy="371.4" r="0.42" fill="#2848e8"/><circle cx="87.6" cy="369.5" r="0.42" fill="#1a30d0"/><circle cx="88.5" cy="356.6" r="0.42" fill="#1a30d0"/><circle cx="81.3" cy="356.6" r="0.42" fill="#5a80ff"/><circle cx="78.3" cy="381.8" r="0.42" fill="#2848e8"/><circle cx="84.9" cy="382.8" r="0.42" fill="#1a30d0"/><circle cx="83.6" cy="383.0" r="0.42" fill="#2848e8"/><circle cx="89.2" cy="355.0" r="0.42" fill="#20b0d0"/><circle cx="88.9" cy="370.9" r="0.42" fill="#3c64f0"/><circle cx="92.0" cy="353.7" r="0.42" fill="#1a30d0"/><circle cx="78.2" cy="352.1" r="0.42" fill="#20b0d0"/><circle cx="79.2" cy="364.6" r="0.42" fill="#20b0d0"/><circle cx="80.5" cy="387.7" r="0.42" fill="#5a80ff"/><circle cx="87.3" cy="364.8" r="0.42" fill="#20b0d0"/><circle cx="89.1" cy="371.3" r="0.42" fill="#2848e8"/><circle cx="80.2" cy="385.1" r="0.42" fill="#3c64f0"/><circle cx="92.6" cy="358.4" r="0.42" fill="#5a80ff"/><circle cx="85.3" cy="384.3" r="0.42" fill="#5a80ff"/><circle cx="92.5" cy="384.5" r="0.42" fill="#20b0d0"/><circle cx="83.1" cy="363.3" r="0.42" fill="#20b0d0"/><circle cx="92.9" cy="381.1" r="0.42" fill="#20b0d0"/><circle cx="83.1" cy="377.0" r="0.42" fill="#1a30d0"/><circle cx="90.7" cy="376.8" r="0.42" fill="#3c64f0"/><circle cx="86.9" cy="392.6" r="0.42" fill="#2848e8"/><circle cx="83.8" cy="380.3" r="0.42" fill="#20b0d0"/><circle cx="89.8" cy="361.4" r="0.42" fill="#5a80ff"/><circle cx="82.3" cy="351.6" r="0.42" fill="#3c64f0"/><circle cx="82.1" cy="358.1" r="0.42" fill="#1a30d0"/><circle cx="82.4" cy="357.4" r="0.42" fill="#20b0d0"/><circle cx="80.2" cy="392.6" r="0.42" fill="#20b0d0"/><circle cx="88.5" cy="390.0" r="0.42" fill="#3c64f0"/><circle cx="86.2" cy="374.2" r="0.42" fill="#5a80ff"/><circle cx="90.2" cy="359.9" r="0.42" fill="#2848e8"/><circle cx="82.7" cy="353.9" r="0.42" fill="#5a80ff"/><circle cx="85.1" cy="360.2" r="0.42" fill="#3c64f0"/><circle cx="87.0" cy="351.9" r="0.42" fill="#5a80ff"/><circle cx="85.0" cy="355.2" r="0.42" fill="#3c64f0"/><circle cx="89.8" cy="361.3" r="0.42" fill="#20b0d0"/><circle cx="86.0" cy="362.4" r="0.42" fill="#20b0d0"/><circle cx="82.9" cy="372.8" r="0.42" fill="#2848e8"/><circle cx="80.9" cy="359.6" r="0.42" fill="#2848e8"/><circle cx="90.3" cy="363.7" r="0.42" fill="#20b0d0"/><circle cx="86.6" cy="368.4" r="0.42" fill="#20b0d0"/><circle cx="91.1" cy="361.9" r="0.42" fill="#5a80ff"/><circle cx="83.7" cy="356.0" r="0.42" fill="#5a80ff"/><circle cx="90.0" cy="358.1" r="0.42" fill="#20b0d0"/><circle cx="78.5" cy="363.3" r="0.42" fill="#20b0d0"/><circle cx="78.3" cy="352.9" r="0.42" fill="#20b0d0"/><circle cx="85.4" cy="375.4" r="0.42" fill="#3c64f0"/><circle cx="92.2" cy="363.3" r="0.42" fill="#1a30d0"/><circle cx="92.5" cy="383.8" r="0.42" fill="#20b0d0"/><circle cx="92.7" cy="362.2" r="0.42" fill="#1a30d0"/><circle cx="83.2" cy="393.4" r="0.42" fill="#5a80ff"/><circle cx="79.3" cy="353.6" r="0.42" fill="#20b0d0"/><circle cx="83.7" cy="381.2" r="0.42" fill="#5a80ff"/><circle cx="92.5" cy="389.8" r="0.42" fill="#1a30d0"/><circle cx="91.2" cy="378.4" r="0.42" fill="#1a30d0"/><circle cx="88.8" cy="355.3" r="0.42" fill="#3c64f0"/><circle cx="86.6" cy="378.5" r="0.42" fill="#20b0d0"/><circle cx="84.0" cy="370.4" r="0.42" fill="#2848e8"/><circle cx="83.7" cy="361.4" r="0.42" fill="#2848e8"/><circle cx="80.6" cy="391.1" r="0.42" fill="#3c64f0"/><circle cx="78.9" cy="374.8" r="0.42" fill="#1a30d0"/><circle cx="90.8" cy="353.5" r="0.42" fill="#20b0d0"/><circle cx="88.9" cy="378.7" r="0.42" fill="#5a80ff"/><circle cx="78.9" cy="357.6" r="0.42" fill="#1a30d0"/><circle cx="92.4" cy="380.0" r="0.42" fill="#3c64f0"/><circle cx="87.0" cy="370.1" r="0.42" fill="#1a30d0"/><circle cx="85.2" cy="367.1" r="0.42" fill="#5a80ff"/><circle cx="79.9" cy="371.8" r="0.42" fill="#2848e8"/><circle cx="84.8" cy="385.5" r="0.42" fill="#1a30d0"/><circle cx="85.2" cy="389.9" r="0.42" fill="#1a30d0"/><circle cx="80.4" cy="386.6" r="0.42" fill="#1a30d0"/><circle cx="92.3" cy="388.0" r="0.42" fill="#2848e8"/><circle cx="89.9" cy="391.8" r="0.42" fill="#5a80ff"/><circle cx="90.9" cy="378.0" r="0.42" fill="#5a80ff"/><circle cx="92.9" cy="365.1" r="0.42" fill="#2848e8"/><circle cx="85.3" cy="377.9" r="0.42" fill="#2848e8"/><circle cx="83.1" cy="382.5" r="0.42" fill="#2848e8"/><circle cx="88.9" cy="374.8" r="0.42" fill="#2848e8"/><circle cx="84.7" cy="357.8" r="0.42" fill="#5a80ff"/><circle cx="84.3" cy="358.1" r="0.42" fill="#3c64f0"/><circle cx="86.7" cy="364.0" r="0.42" fill="#2848e8"/><circle cx="82.0" cy="356.1" r="0.42" fill="#5a80ff"/><circle cx="91.8" cy="356.3" r="0.42" fill="#20b0d0"/><circle cx="78.9" cy="389.2" r="0.42" fill="#2848e8"/><circle cx="86.6" cy="386.7" r="0.42" fill="#1a30d0"/><circle cx="81.9" cy="360.0" r="0.42" fill="#3c64f0"/><circle cx="84.6" cy="362.5" r="0.42" fill="#2848e8"/><circle cx="92.2" cy="355.6" r="0.42" fill="#3c64f0"/><circle cx="84.4" cy="358.3" r="0.42" fill="#3c64f0"/><circle cx="80.2" cy="378.4" r="0.42" fill="#5a80ff"/><circle cx="90.3" cy="365.9" r="0.42" fill="#2848e8"/><circle cx="84.8" cy="384.7" r="0.42" fill="#20b0d0"/><circle cx="82.4" cy="366.7" r="0.42" fill="#1a30d0"/><circle cx="92.0" cy="360.7" r="0.42" fill="#20b0d0"/><circle cx="80.8" cy="387.0" r="0.42" fill="#20b0d0"/><circle cx="89.8" cy="381.5" r="0.42" fill="#2848e8"/><circle cx="87.2" cy="386.4" r="0.42" fill="#20b0d0"/><circle cx="89.2" cy="383.5" r="0.42" fill="#2848e8"/><circle cx="81.2" cy="377.3" r="0.42" fill="#2848e8"/><circle cx="86.9" cy="360.0" r="0.42" fill="#1a30d0"/><circle cx="88.6" cy="373.4" r="0.42" fill="#1a30d0"/><circle cx="85.9" cy="366.1" r="0.42" fill="#3c64f0"/><circle cx="90.9" cy="387.9" r="0.42" fill="#5a80ff"/><circle cx="79.4" cy="368.7" r="0.42" fill="#5a80ff"/><circle cx="80.0" cy="379.5" r="0.42" fill="#2848e8"/><circle cx="80.8" cy="386.5" r="0.42" fill="#3c64f0"/><circle cx="78.6" cy="381.1" r="0.42" fill="#20b0d0"/><circle cx="87.1" cy="351.7" r="0.42" fill="#20b0d0"/><circle cx="92.3" cy="392.3" r="0.42" fill="#1a30d0"/><circle cx="79.8" cy="381.6" r="0.42" fill="#3c64f0"/><circle cx="89.9" cy="388.0" r="0.42" fill="#20b0d0"/><circle cx="89.5" cy="354.1" r="0.42" fill="#1a30d0"/><circle cx="92.6" cy="372.3" r="0.42" fill="#20b0d0"/><circle cx="78.4" cy="385.4" r="0.42" fill="#2848e8"/><circle cx="78.3" cy="392.2" r="0.42" fill="#2848e8"/><circle cx="87.5" cy="358.6" r="0.42" fill="#3c64f0"/><circle cx="81.8" cy="385.9" r="0.42" fill="#1a30d0"/><circle cx="78.3" cy="390.5" r="0.42" fill="#2848e8"/><circle cx="82.0" cy="386.8" r="0.42" fill="#20b0d0"/><circle cx="85.1" cy="361.5" r="0.42" fill="#5a80ff"/><circle cx="79.6" cy="388.1" r="0.42" fill="#2848e8"/><circle cx="78.7" cy="356.7" r="0.42" fill="#5a80ff"/><circle cx="87.0" cy="383.6" r="0.42" fill="#1a30d0"/><circle cx="79.9" cy="368.6" r="0.42" fill="#2848e8"/><circle cx="86.3" cy="361.1" r="0.42" fill="#2848e8"/><circle cx="80.3" cy="375.6" r="0.42" fill="#5a80ff"/><circle cx="80.5" cy="386.3" r="0.42" fill="#5a80ff"/><circle cx="88.6" cy="376.6" r="0.42" fill="#20b0d0"/><circle cx="86.0" cy="368.2" r="0.42" fill="#1a30d0"/><circle cx="89.9" cy="365.8" r="0.42" fill="#2848e8"/><circle cx="90.8" cy="381.6" r="0.42" fill="#20b0d0"/><circle cx="90.3" cy="389.9" r="0.42" fill="#5a80ff"/><circle cx="91.0" cy="353.8" r="0.42" fill="#20b0d0"/><circle cx="80.2" cy="380.1" r="0.42" fill="#3c64f0"/><circle cx="81.8" cy="369.3" r="0.42" fill="#1a30d0"/><circle cx="83.6" cy="373.8" r="0.42" fill="#1a30d0"/><circle cx="83.0" cy="360.0" r="0.42" fill="#1a30d0"/><circle cx="81.4" cy="369.2" r="0.42" fill="#5a80ff"/><circle cx="89.9" cy="390.9" r="0.42" fill="#1a30d0"/><circle cx="90.4" cy="388.7" r="0.42" fill="#1a30d0"/><circle cx="78.5" cy="378.5" r="0.42" fill="#3c64f0"/><circle cx="92.0" cy="377.7" r="0.42" fill="#20b0d0"/><circle cx="90.3" cy="353.0" r="0.42" fill="#1a30d0"/><circle cx="81.8" cy="373.4" r="0.42" fill="#5a80ff"/><circle cx="81.6" cy="353.2" r="0.42" fill="#1a30d0"/><circle cx="82.7" cy="378.8" r="0.42" fill="#1a30d0"/><circle cx="78.9" cy="391.9" r="0.42" fill="#20b0d0"/><circle cx="91.8" cy="355.1" r="0.42" fill="#20b0d0"/><circle cx="86.2" cy="357.7" r="0.42" fill="#1a30d0"/><circle cx="85.8" cy="388.8" r="0.42" fill="#5a80ff"/><circle cx="86.8" cy="363.0" r="0.42" fill="#1a30d0"/><circle cx="89.3" cy="363.6" r="0.42" fill="#5a80ff"/><circle cx="87.3" cy="375.5" r="0.42" fill="#5a80ff"/><circle cx="81.1" cy="381.4" r="0.42" fill="#5a80ff"/><circle cx="91.6" cy="364.3" r="0.42" fill="#5a80ff"/><circle cx="85.2" cy="364.6" r="0.42" fill="#2848e8"/><circle cx="83.1" cy="359.4" r="0.42" fill="#20b0d0"/><circle cx="83.9" cy="376.2" r="0.42" fill="#1a30d0"/><circle cx="92.1" cy="358.3" r="0.42" fill="#2848e8"/><circle cx="83.0" cy="365.2" r="0.42" fill="#3c64f0"/><circle cx="82.4" cy="393.1" r="0.42" fill="#3c64f0"/><circle cx="78.9" cy="352.4" r="0.42" fill="#20b0d0"/><circle cx="79.0" cy="388.2" r="0.42" fill="#5a80ff"/><circle cx="88.1" cy="373.3" r="0.42" fill="#5a80ff"/><circle cx="83.4" cy="383.6" r="0.42" fill="#20b0d0"/><circle cx="81.4" cy="391.9" r="0.42" fill="#2848e8"/><circle cx="84.4" cy="379.6" r="0.42" fill="#2848e8"/><circle cx="88.3" cy="377.4" r="0.42" fill="#3c64f0"/><circle cx="90.6" cy="373.3" r="0.42" fill="#5a80ff"/><circle cx="82.1" cy="378.1" r="0.42" fill="#2848e8"/><circle cx="84.3" cy="355.9" r="0.42" fill="#5a80ff"/><circle cx="89.7" cy="376.2" r="0.42" fill="#5a80ff"/><circle cx="84.1" cy="393.3" r="0.42" fill="#2848e8"/><circle cx="84.4" cy="384.5" r="0.42" fill="#20b0d0"/><circle cx="87.3" cy="367.5" r="0.42" fill="#5a80ff"/><circle cx="88.6" cy="363.6" r="0.42" fill="#3c64f0"/><circle cx="82.5" cy="367.9" r="0.42" fill="#20b0d0"/><circle cx="87.1" cy="378.8" r="0.42" fill="#1a30d0"/><circle cx="90.0" cy="387.3" r="0.42" fill="#5a80ff"/><circle cx="83.8" cy="364.1" r="0.42" fill="#20b0d0"/><circle cx="82.7" cy="357.6" r="0.42" fill="#20b0d0"/><circle cx="83.8" cy="361.3" r="0.42" fill="#3c64f0"/></g>
<g filter="url(#bl)">
<path d="M56.6,393.6 L56.6,380 Q57.5,378.5 60,376.5 L65,373.5 L70,372.8 L75,372.8 Q77.5,373.2 76.5,375.5 L72,381.5 L69.5,393.6 Z" fill="#18d020" opacity="1"/>
<path d="M57,393.6 L57,383.5 Q58,382 61,380.5 L66,378.5 L69,377.6 Q71,377.5 70.5,379 L68.8,385 L67.8,393.6 Z" fill="#fff000" opacity="1"/>
<path d="M57.6,393.6 L57.6,386 Q58.5,383.8 61,383 L66,381.3 Q69,380.6 69,382 L67.5,388 L66.2,393.6 Z" fill="#ff0c0c" opacity="1"/>
<ellipse cx="85.6" cy="362.2" rx="5.8" ry="7.6" fill="#18d020" transform="rotate(25 85.6 362.2)" opacity="1"/>
<ellipse cx="84.9" cy="362.2" rx="3.6" ry="5.0" fill="#fff000" transform="rotate(20 84.9 362.2)" opacity="1"/>
<ellipse cx="84.8" cy="362.2" rx="2.2" ry="3.3" fill="#ff8a00" transform="rotate(20 84.8 362.2)" opacity="1"/>
<ellipse cx="85.6" cy="387.8" rx="6.3" ry="11" fill="#18d020" transform="rotate(0 85.6 387.8)" opacity="1"/>
<ellipse cx="85.4" cy="388.6" rx="4.8" ry="8.8" fill="#fff000" transform="rotate(0 85.4 388.6)" opacity="1"/>
<ellipse cx="85.4" cy="389.3" rx="3.3" ry="6.9" fill="#ff0c0c" transform="rotate(0 85.4 389.3)" opacity="1"/>
<ellipse cx="82.8" cy="374" rx="1.3" ry="5.5" fill="#18d020" transform="rotate(-30 82.8 374)" opacity="0.7"/>
<ellipse cx="88.3" cy="374" rx="1.3" ry="5.5" fill="#18d020" transform="rotate(30 88.3 374)" opacity="0.7"/>
</g>
<g opacity="0.85"><circle cx="83.2" cy="378.1" r="0.45" fill="#3c6cf0"/><circle cx="91.5" cy="370.5" r="0.45" fill="#1f2fb8"/><circle cx="90.6" cy="379.5" r="0.45" fill="#2a3ee0"/><circle cx="79.6" cy="374.8" r="0.45" fill="#1f2fb8"/><circle cx="82.9" cy="374.4" r="0.45" fill="#5a7cff"/><circle cx="86.0" cy="380.0" r="0.45" fill="#1f2fb8"/><circle cx="84.1" cy="372.3" r="0.45" fill="#5a7cff"/><circle cx="84.9" cy="368.1" r="0.45" fill="#2a3ee0"/><circle cx="85.8" cy="369.2" r="0.45" fill="#5a7cff"/><circle cx="85.5" cy="375.8" r="0.45" fill="#3c6cf0"/><circle cx="90.4" cy="379.6" r="0.45" fill="#1f2fb8"/><circle cx="84.2" cy="377.2" r="0.45" fill="#5a7cff"/><circle cx="88.0" cy="377.0" r="0.45" fill="#2a3ee0"/><circle cx="81.2" cy="371.8" r="0.45" fill="#2a3ee0"/><circle cx="89.7" cy="374.2" r="0.45" fill="#2a3ee0"/><circle cx="87.5" cy="371.5" r="0.45" fill="#5a7cff"/><circle cx="89.7" cy="379.9" r="0.45" fill="#1f2fb8"/><circle cx="87.2" cy="374.3" r="0.45" fill="#3c6cf0"/><circle cx="85.6" cy="370.3" r="0.45" fill="#3c6cf0"/><circle cx="79.8" cy="374.8" r="0.45" fill="#2a3ee0"/><circle cx="83.6" cy="379.9" r="0.45" fill="#2a3ee0"/><circle cx="88.0" cy="368.1" r="0.45" fill="#2a3ee0"/><circle cx="83.0" cy="376.3" r="0.45" fill="#2a3ee0"/><circle cx="90.9" cy="372.8" r="0.45" fill="#2a3ee0"/><circle cx="86.6" cy="376.0" r="0.45" fill="#3c6cf0"/><circle cx="81.3" cy="377.2" r="0.45" fill="#5a7cff"/><circle cx="90.3" cy="378.7" r="0.45" fill="#3c6cf0"/><circle cx="86.5" cy="372.9" r="0.45" fill="#2a3ee0"/><circle cx="80.9" cy="374.2" r="0.45" fill="#2a3ee0"/><circle cx="79.4" cy="368.9" r="0.45" fill="#1f2fb8"/><circle cx="89.7" cy="375.4" r="0.45" fill="#2a3ee0"/><circle cx="87.5" cy="376.2" r="0.45" fill="#5a7cff"/><circle cx="80.9" cy="370.9" r="0.45" fill="#5a7cff"/><circle cx="81.2" cy="371.2" r="0.45" fill="#2a3ee0"/><circle cx="90.2" cy="379.4" r="0.45" fill="#2a3ee0"/><circle cx="83.5" cy="373.4" r="0.45" fill="#1f2fb8"/><circle cx="79.3" cy="370.6" r="0.45" fill="#1f2fb8"/><circle cx="86.6" cy="379.5" r="0.45" fill="#1f2fb8"/><circle cx="79.7" cy="370.9" r="0.45" fill="#3c6cf0"/><circle cx="79.6" cy="379.2" r="0.45" fill="#3c6cf0"/><circle cx="83.1" cy="378.8" r="0.45" fill="#1f2fb8"/><circle cx="82.9" cy="375.2" r="0.45" fill="#1f2fb8"/><circle cx="91.7" cy="368.8" r="0.45" fill="#1f2fb8"/><circle cx="87.8" cy="375.0" r="0.45" fill="#1f2fb8"/><circle cx="83.0" cy="378.5" r="0.45" fill="#1f2fb8"/></g>
</g>
<g clip-path="url(#c2)">
<path d="M128.5,372 L132,366 L138,360.5 L144,357 L150.3,356 L150.3,393.8 L128.5,393.8 Z" fill="#aebcff" opacity="0.5" filter="url(#bl3)"/>
<g opacity="0.85"><circle cx="129.0" cy="388.8" r="0.42" fill="#1a30d0"/><circle cx="132.3" cy="369.5" r="0.42" fill="#2848e8"/><circle cx="128.7" cy="389.4" r="0.42" fill="#5a80ff"/><circle cx="140.7" cy="360.3" r="0.42" fill="#20b0d0"/><circle cx="147.5" cy="368.7" r="0.42" fill="#1a30d0"/><circle cx="149.5" cy="372.0" r="0.42" fill="#3c64f0"/><circle cx="140.6" cy="370.6" r="0.42" fill="#5a80ff"/><circle cx="134.7" cy="365.0" r="0.42" fill="#1a30d0"/><circle cx="146.0" cy="365.1" r="0.42" fill="#2848e8"/><circle cx="146.7" cy="360.8" r="0.42" fill="#5a80ff"/><circle cx="138.7" cy="386.0" r="0.42" fill="#2848e8"/><circle cx="132.0" cy="369.3" r="0.42" fill="#5a80ff"/><circle cx="136.7" cy="392.2" r="0.42" fill="#2848e8"/><circle cx="135.0" cy="374.0" r="0.42" fill="#2848e8"/><circle cx="133.5" cy="373.1" r="0.42" fill="#2848e8"/><circle cx="149.0" cy="393.7" r="0.42" fill="#20b0d0"/><circle cx="148.1" cy="378.2" r="0.42" fill="#3c64f0"/><circle cx="140.2" cy="371.3" r="0.42" fill="#20b0d0"/><circle cx="133.1" cy="389.0" r="0.42" fill="#1a30d0"/><circle cx="143.3" cy="359.5" r="0.42" fill="#3c64f0"/><circle cx="144.5" cy="384.9" r="0.42" fill="#1a30d0"/><circle cx="142.8" cy="377.5" r="0.42" fill="#3c64f0"/><circle cx="128.8" cy="382.9" r="0.42" fill="#2848e8"/><circle cx="145.4" cy="364.8" r="0.42" fill="#2848e8"/><circle cx="142.9" cy="360.1" r="0.42" fill="#20b0d0"/><circle cx="148.4" cy="386.4" r="0.42" fill="#3c64f0"/><circle cx="132.7" cy="383.2" r="0.42" fill="#1a30d0"/><circle cx="144.1" cy="366.7" r="0.42" fill="#5a80ff"/><circle cx="146.9" cy="373.6" r="0.42" fill="#2848e8"/><circle cx="148.9" cy="362.7" r="0.42" fill="#3c64f0"/><circle cx="143.3" cy="381.1" r="0.42" fill="#3c64f0"/><circle cx="148.1" cy="357.0" r="0.42" fill="#5a80ff"/><circle cx="133.9" cy="388.0" r="0.42" fill="#3c64f0"/><circle cx="148.3" cy="359.7" r="0.42" fill="#3c64f0"/><circle cx="131.0" cy="390.5" r="0.42" fill="#2848e8"/><circle cx="144.0" cy="357.5" r="0.42" fill="#1a30d0"/><circle cx="141.8" cy="372.3" r="0.42" fill="#3c64f0"/><circle cx="131.9" cy="383.9" r="0.42" fill="#20b0d0"/><circle cx="135.3" cy="380.1" r="0.42" fill="#2848e8"/><circle cx="140.8" cy="364.6" r="0.42" fill="#5a80ff"/><circle cx="144.1" cy="365.6" r="0.42" fill="#5a80ff"/><circle cx="143.1" cy="377.7" r="0.42" fill="#1a30d0"/><circle cx="130.9" cy="384.9" r="0.42" fill="#3c64f0"/><circle cx="148.1" cy="389.1" r="0.42" fill="#20b0d0"/><circle cx="145.8" cy="363.9" r="0.42" fill="#3c64f0"/><circle cx="144.8" cy="359.3" r="0.42" fill="#5a80ff"/><circle cx="150.3" cy="379.3" r="0.42" fill="#2848e8"/><circle cx="149.1" cy="372.0" r="0.42" fill="#3c64f0"/><circle cx="143.6" cy="383.9" r="0.42" fill="#5a80ff"/><circle cx="139.6" cy="381.6" r="0.42" fill="#2848e8"/><circle cx="137.8" cy="375.3" r="0.42" fill="#2848e8"/><circle cx="139.2" cy="363.2" r="0.42" fill="#20b0d0"/><circle cx="134.2" cy="376.7" r="0.42" fill="#2848e8"/><circle cx="140.4" cy="365.4" r="0.42" fill="#1a30d0"/><circle cx="132.2" cy="369.1" r="0.42" fill="#1a30d0"/><circle cx="132.9" cy="367.7" r="0.42" fill="#2848e8"/><circle cx="143.5" cy="374.4" r="0.42" fill="#5a80ff"/><circle cx="133.7" cy="365.1" r="0.42" fill="#20b0d0"/><circle cx="143.6" cy="361.0" r="0.42" fill="#3c64f0"/><circle cx="143.7" cy="361.0" r="0.42" fill="#2848e8"/><circle cx="141.3" cy="365.1" r="0.42" fill="#1a30d0"/><circle cx="140.5" cy="384.7" r="0.42" fill="#2848e8"/><circle cx="143.3" cy="361.9" r="0.42" fill="#5a80ff"/><circle cx="146.8" cy="371.4" r="0.42" fill="#2848e8"/><circle cx="136.4" cy="363.8" r="0.42" fill="#1a30d0"/><circle cx="148.0" cy="367.5" r="0.42" fill="#1a30d0"/><circle cx="143.8" cy="372.9" r="0.42" fill="#1a30d0"/><circle cx="132.0" cy="372.8" r="0.42" fill="#20b0d0"/><circle cx="136.4" cy="362.4" r="0.42" fill="#1a30d0"/><circle cx="129.5" cy="373.7" r="0.42" fill="#5a80ff"/><circle cx="130.3" cy="383.1" r="0.42" fill="#20b0d0"/><circle cx="134.3" cy="380.4" r="0.42" fill="#5a80ff"/><circle cx="139.1" cy="385.6" r="0.42" fill="#3c64f0"/><circle cx="128.7" cy="390.8" r="0.42" fill="#3c64f0"/><circle cx="142.2" cy="391.4" r="0.42" fill="#3c64f0"/><circle cx="142.7" cy="359.0" r="0.42" fill="#1a30d0"/><circle cx="131.7" cy="369.9" r="0.42" fill="#20b0d0"/><circle cx="146.9" cy="391.0" r="0.42" fill="#2848e8"/><circle cx="130.7" cy="383.2" r="0.42" fill="#3c64f0"/><circle cx="144.7" cy="368.3" r="0.42" fill="#2848e8"/><circle cx="142.6" cy="369.5" r="0.42" fill="#2848e8"/><circle cx="136.5" cy="376.8" r="0.42" fill="#3c64f0"/><circle cx="146.8" cy="365.6" r="0.42" fill="#1a30d0"/><circle cx="129.4" cy="377.4" r="0.42" fill="#5a80ff"/><circle cx="148.2" cy="391.7" r="0.42" fill="#5a80ff"/><circle cx="137.7" cy="383.6" r="0.42" fill="#3c64f0"/><circle cx="141.6" cy="379.7" r="0.42" fill="#2848e8"/><circle cx="143.5" cy="362.2" r="0.42" fill="#5a80ff"/><circle cx="142.4" cy="371.2" r="0.42" fill="#1a30d0"/><circle cx="147.0" cy="374.1" r="0.42" fill="#2848e8"/><circle cx="146.8" cy="388.3" r="0.42" fill="#20b0d0"/><circle cx="137.8" cy="366.7" r="0.42" fill="#1a30d0"/><circle cx="139.7" cy="371.9" r="0.42" fill="#3c64f0"/><circle cx="149.3" cy="362.7" r="0.42" fill="#2848e8"/><circle cx="146.0" cy="381.5" r="0.42" fill="#20b0d0"/><circle cx="135.6" cy="373.4" r="0.42" fill="#20b0d0"/><circle cx="148.3" cy="388.7" r="0.42" fill="#5a80ff"/><circle cx="149.5" cy="379.4" r="0.42" fill="#1a30d0"/><circle cx="144.3" cy="368.5" r="0.42" fill="#3c64f0"/><circle cx="140.8" cy="371.9" r="0.42" fill="#3c64f0"/><circle cx="139.0" cy="380.5" r="0.42" fill="#3c64f0"/><circle cx="147.4" cy="376.0" r="0.42" fill="#1a30d0"/><circle cx="147.0" cy="364.4" r="0.42" fill="#5a80ff"/><circle cx="143.6" cy="361.6" r="0.42" fill="#20b0d0"/><circle cx="136.6" cy="378.0" r="0.42" fill="#5a80ff"/><circle cx="136.3" cy="365.1" r="0.42" fill="#5a80ff"/><circle cx="132.4" cy="389.6" r="0.42" fill="#20b0d0"/><circle cx="144.8" cy="364.4" r="0.42" fill="#3c64f0"/><circle cx="142.7" cy="363.1" r="0.42" fill="#3c64f0"/><circle cx="144.0" cy="364.6" r="0.42" fill="#5a80ff"/><circle cx="133.4" cy="377.6" r="0.42" fill="#1a30d0"/><circle cx="144.5" cy="390.4" r="0.42" fill="#20b0d0"/><circle cx="130.2" cy="371.4" r="0.42" fill="#1a30d0"/><circle cx="145.9" cy="361.1" r="0.42" fill="#20b0d0"/><circle cx="140.5" cy="383.0" r="0.42" fill="#1a30d0"/><circle cx="142.2" cy="392.3" r="0.42" fill="#20b0d0"/><circle cx="130.7" cy="387.4" r="0.42" fill="#5a80ff"/><circle cx="140.4" cy="392.6" r="0.42" fill="#2848e8"/><circle cx="140.8" cy="385.3" r="0.42" fill="#2848e8"/><circle cx="136.6" cy="379.4" r="0.42" fill="#5a80ff"/><circle cx="133.7" cy="370.1" r="0.42" fill="#1a30d0"/><circle cx="143.8" cy="392.1" r="0.42" fill="#5a80ff"/><circle cx="135.0" cy="382.7" r="0.42" fill="#5a80ff"/><circle cx="148.3" cy="359.3" r="0.42" fill="#2848e8"/><circle cx="140.8" cy="390.7" r="0.42" fill="#3c64f0"/><circle cx="132.2" cy="384.2" r="0.42" fill="#3c64f0"/><circle cx="146.0" cy="383.8" r="0.42" fill="#1a30d0"/><circle cx="146.5" cy="360.6" r="0.42" fill="#3c64f0"/><circle cx="139.7" cy="375.8" r="0.42" fill="#3c64f0"/><circle cx="144.2" cy="357.6" r="0.42" fill="#20b0d0"/><circle cx="136.2" cy="369.4" r="0.42" fill="#3c64f0"/><circle cx="146.0" cy="360.3" r="0.42" fill="#2848e8"/><circle cx="138.2" cy="387.7" r="0.42" fill="#20b0d0"/><circle cx="138.1" cy="385.9" r="0.42" fill="#5a80ff"/><circle cx="130.9" cy="386.3" r="0.42" fill="#2848e8"/><circle cx="131.8" cy="391.2" r="0.42" fill="#5a80ff"/><circle cx="146.7" cy="378.2" r="0.42" fill="#3c64f0"/><circle cx="140.2" cy="382.1" r="0.42" fill="#3c64f0"/><circle cx="149.2" cy="356.5" r="0.42" fill="#3c64f0"/><circle cx="150.2" cy="374.4" r="0.42" fill="#5a80ff"/><circle cx="147.5" cy="386.3" r="0.42" fill="#1a30d0"/><circle cx="130.1" cy="379.5" r="0.42" fill="#20b0d0"/><circle cx="137.1" cy="374.0" r="0.42" fill="#2848e8"/><circle cx="143.6" cy="373.0" r="0.42" fill="#2848e8"/><circle cx="147.5" cy="379.1" r="0.42" fill="#1a30d0"/><circle cx="136.4" cy="376.0" r="0.42" fill="#3c64f0"/><circle cx="148.0" cy="378.3" r="0.42" fill="#1a30d0"/><circle cx="133.1" cy="387.0" r="0.42" fill="#5a80ff"/><circle cx="135.7" cy="373.7" r="0.42" fill="#3c64f0"/><circle cx="135.4" cy="368.7" r="0.42" fill="#5a80ff"/><circle cx="138.5" cy="393.3" r="0.42" fill="#1a30d0"/><circle cx="142.3" cy="383.5" r="0.42" fill="#2848e8"/><circle cx="134.4" cy="366.3" r="0.42" fill="#20b0d0"/><circle cx="150.1" cy="369.5" r="0.42" fill="#20b0d0"/><circle cx="140.0" cy="392.2" r="0.42" fill="#1a30d0"/><circle cx="148.4" cy="390.1" r="0.42" fill="#1a30d0"/><circle cx="147.5" cy="385.3" r="0.42" fill="#20b0d0"/><circle cx="142.3" cy="369.7" r="0.42" fill="#3c64f0"/><circle cx="145.8" cy="365.0" r="0.42" fill="#2848e8"/><circle cx="143.4" cy="367.5" r="0.42" fill="#3c64f0"/><circle cx="144.6" cy="375.2" r="0.42" fill="#2848e8"/><circle cx="136.1" cy="376.8" r="0.42" fill="#5a80ff"/><circle cx="135.8" cy="382.6" r="0.42" fill="#3c64f0"/><circle cx="147.8" cy="385.6" r="0.42" fill="#20b0d0"/><circle cx="136.5" cy="365.2" r="0.42" fill="#2848e8"/><circle cx="150.2" cy="361.7" r="0.42" fill="#2848e8"/><circle cx="128.7" cy="388.9" r="0.42" fill="#5a80ff"/><circle cx="137.3" cy="371.0" r="0.42" fill="#3c64f0"/><circle cx="148.8" cy="378.2" r="0.42" fill="#2848e8"/><circle cx="135.1" cy="367.7" r="0.42" fill="#20b0d0"/><circle cx="140.5" cy="391.4" r="0.42" fill="#3c64f0"/><circle cx="148.7" cy="378.1" r="0.42" fill="#3c64f0"/><circle cx="141.2" cy="393.3" r="0.42" fill="#3c64f0"/><circle cx="149.7" cy="382.1" r="0.42" fill="#1a30d0"/><circle cx="146.8" cy="368.1" r="0.42" fill="#2848e8"/><circle cx="134.5" cy="365.7" r="0.42" fill="#1a30d0"/><circle cx="145.0" cy="379.7" r="0.42" fill="#2848e8"/><circle cx="143.9" cy="364.3" r="0.42" fill="#5a80ff"/><circle cx="138.3" cy="389.7" r="0.42" fill="#3c64f0"/><circle cx="147.3" cy="380.5" r="0.42" fill="#2848e8"/><circle cx="130.1" cy="386.9" r="0.42" fill="#20b0d0"/><circle cx="132.6" cy="376.3" r="0.42" fill="#1a30d0"/><circle cx="142.4" cy="390.9" r="0.42" fill="#2848e8"/><circle cx="135.5" cy="388.8" r="0.42" fill="#1a30d0"/><circle cx="142.6" cy="371.3" r="0.42" fill="#3c64f0"/><circle cx="132.3" cy="388.6" r="0.42" fill="#1a30d0"/><circle cx="130.4" cy="379.2" r="0.42" fill="#5a80ff"/><circle cx="150.0" cy="371.1" r="0.42" fill="#5a80ff"/><circle cx="147.5" cy="357.0" r="0.42" fill="#3c64f0"/><circle cx="140.8" cy="393.3" r="0.42" fill="#1a30d0"/><circle cx="137.5" cy="382.8" r="0.42" fill="#3c64f0"/><circle cx="133.1" cy="376.0" r="0.42" fill="#1a30d0"/><circle cx="136.3" cy="369.7" r="0.42" fill="#3c64f0"/><circle cx="140.2" cy="378.2" r="0.42" fill="#20b0d0"/><circle cx="131.8" cy="393.1" r="0.42" fill="#20b0d0"/><circle cx="135.7" cy="384.0" r="0.42" fill="#3c64f0"/><circle cx="146.2" cy="374.1" r="0.42" fill="#1a30d0"/><circle cx="145.4" cy="367.7" r="0.42" fill="#20b0d0"/><circle cx="149.8" cy="373.1" r="0.42" fill="#3c64f0"/><circle cx="136.4" cy="376.0" r="0.42" fill="#3c64f0"/><circle cx="138.9" cy="380.8" r="0.42" fill="#3c64f0"/><circle cx="131.8" cy="379.8" r="0.42" fill="#5a80ff"/><circle cx="145.0" cy="359.4" r="0.42" fill="#1a30d0"/><circle cx="142.1" cy="360.6" r="0.42" fill="#20b0d0"/><circle cx="139.4" cy="377.0" r="0.42" fill="#2848e8"/><circle cx="134.1" cy="378.9" r="0.42" fill="#2848e8"/><circle cx="148.2" cy="388.9" r="0.42" fill="#2848e8"/><circle cx="140.0" cy="369.3" r="0.42" fill="#2848e8"/><circle cx="138.1" cy="388.5" r="0.42" fill="#2848e8"/><circle cx="142.4" cy="369.0" r="0.42" fill="#5a80ff"/><circle cx="138.5" cy="368.2" r="0.42" fill="#1a30d0"/><circle cx="130.9" cy="383.7" r="0.42" fill="#1a30d0"/><circle cx="146.1" cy="390.5" r="0.42" fill="#3c64f0"/><circle cx="129.8" cy="377.3" r="0.42" fill="#5a80ff"/><circle cx="148.3" cy="370.2" r="0.42" fill="#2848e8"/><circle cx="144.0" cy="365.1" r="0.42" fill="#3c64f0"/><circle cx="132.9" cy="384.7" r="0.42" fill="#3c64f0"/><circle cx="135.0" cy="393.6" r="0.42" fill="#2848e8"/><circle cx="149.9" cy="385.9" r="0.42" fill="#5a80ff"/><circle cx="147.3" cy="388.9" r="0.42" fill="#3c64f0"/><circle cx="149.3" cy="361.2" r="0.42" fill="#3c64f0"/><circle cx="134.7" cy="368.5" r="0.42" fill="#5a80ff"/><circle cx="147.5" cy="365.4" r="0.42" fill="#3c64f0"/><circle cx="143.4" cy="378.6" r="0.42" fill="#5a80ff"/><circle cx="145.6" cy="388.2" r="0.42" fill="#3c64f0"/><circle cx="129.5" cy="385.3" r="0.42" fill="#5a80ff"/><circle cx="132.5" cy="388.7" r="0.42" fill="#3c64f0"/><circle cx="143.4" cy="386.4" r="0.42" fill="#2848e8"/><circle cx="149.7" cy="356.4" r="0.42" fill="#3c64f0"/><circle cx="131.8" cy="383.8" r="0.42" fill="#1a30d0"/><circle cx="144.9" cy="373.6" r="0.42" fill="#5a80ff"/><circle cx="130.5" cy="368.8" r="0.42" fill="#5a80ff"/><circle cx="147.7" cy="393.0" r="0.42" fill="#1a30d0"/><circle cx="141.3" cy="363.6" r="0.42" fill="#1a30d0"/><circle cx="129.3" cy="375.1" r="0.42" fill="#2848e8"/><circle cx="141.0" cy="382.4" r="0.42" fill="#1a30d0"/><circle cx="129.6" cy="389.8" r="0.42" fill="#1a30d0"/><circle cx="147.7" cy="360.6" r="0.42" fill="#5a80ff"/><circle cx="149.7" cy="375.9" r="0.42" fill="#1a30d0"/><circle cx="132.4" cy="381.9" r="0.42" fill="#2848e8"/><circle cx="142.3" cy="376.6" r="0.42" fill="#1a30d0"/><circle cx="140.1" cy="387.7" r="0.42" fill="#1a30d0"/><circle cx="136.1" cy="364.1" r="0.42" fill="#2848e8"/><circle cx="144.4" cy="366.3" r="0.42" fill="#2848e8"/><circle cx="149.6" cy="363.4" r="0.42" fill="#1a30d0"/><circle cx="137.4" cy="377.0" r="0.42" fill="#3c64f0"/><circle cx="134.3" cy="368.3" r="0.42" fill="#1a30d0"/><circle cx="142.7" cy="376.6" r="0.42" fill="#20b0d0"/><circle cx="135.7" cy="371.5" r="0.42" fill="#3c64f0"/><circle cx="137.2" cy="368.0" r="0.42" fill="#5a80ff"/><circle cx="136.8" cy="361.7" r="0.42" fill="#5a80ff"/><circle cx="147.7" cy="386.4" r="0.42" fill="#1a30d0"/><circle cx="133.7" cy="374.9" r="0.42" fill="#3c64f0"/><circle cx="143.6" cy="383.6" r="0.42" fill="#2848e8"/><circle cx="146.5" cy="381.1" r="0.42" fill="#1a30d0"/><circle cx="146.9" cy="385.6" r="0.42" fill="#1a30d0"/><circle cx="137.3" cy="377.1" r="0.42" fill="#5a80ff"/><circle cx="140.5" cy="367.9" r="0.42" fill="#20b0d0"/><circle cx="128.5" cy="384.2" r="0.42" fill="#5a80ff"/><circle cx="139.6" cy="378.4" r="0.42" fill="#5a80ff"/><circle cx="133.6" cy="379.8" r="0.42" fill="#5a80ff"/><circle cx="149.8" cy="366.1" r="0.42" fill="#3c64f0"/><circle cx="130.1" cy="386.1" r="0.42" fill="#2848e8"/><circle cx="148.6" cy="384.9" r="0.42" fill="#3c64f0"/><circle cx="148.3" cy="373.9" r="0.42" fill="#3c64f0"/><circle cx="139.9" cy="374.0" r="0.42" fill="#2848e8"/><circle cx="150.3" cy="358.5" r="0.42" fill="#20b0d0"/><circle cx="136.4" cy="363.7" r="0.42" fill="#2848e8"/><circle cx="146.2" cy="365.0" r="0.42" fill="#2848e8"/><circle cx="131.8" cy="381.0" r="0.42" fill="#2848e8"/><circle cx="142.5" cy="387.3" r="0.42" fill="#1a30d0"/><circle cx="135.5" cy="369.7" r="0.42" fill="#5a80ff"/><circle cx="136.3" cy="386.4" r="0.42" fill="#20b0d0"/><circle cx="135.1" cy="381.0" r="0.42" fill="#3c64f0"/><circle cx="137.1" cy="393.7" r="0.42" fill="#1a30d0"/><circle cx="138.3" cy="374.1" r="0.42" fill="#2848e8"/><circle cx="145.0" cy="361.7" r="0.42" fill="#2848e8"/><circle cx="136.5" cy="375.7" r="0.42" fill="#2848e8"/><circle cx="142.1" cy="375.8" r="0.42" fill="#5a80ff"/><circle cx="134.0" cy="377.0" r="0.42" fill="#1a30d0"/><circle cx="132.4" cy="383.1" r="0.42" fill="#3c64f0"/><circle cx="148.5" cy="365.7" r="0.42" fill="#3c64f0"/><circle cx="146.7" cy="359.5" r="0.42" fill="#5a80ff"/><circle cx="147.2" cy="363.6" r="0.42" fill="#5a80ff"/><circle cx="149.4" cy="367.0" r="0.42" fill="#3c64f0"/><circle cx="148.6" cy="383.1" r="0.42" fill="#5a80ff"/><circle cx="136.5" cy="382.9" r="0.42" fill="#3c64f0"/><circle cx="149.6" cy="372.3" r="0.42" fill="#20b0d0"/><circle cx="146.2" cy="369.3" r="0.42" fill="#5a80ff"/><circle cx="147.0" cy="360.9" r="0.42" fill="#20b0d0"/><circle cx="132.7" cy="392.7" r="0.42" fill="#20b0d0"/><circle cx="136.6" cy="381.2" r="0.42" fill="#3c64f0"/><circle cx="147.3" cy="359.0" r="0.42" fill="#5a80ff"/><circle cx="136.8" cy="375.9" r="0.42" fill="#5a80ff"/><circle cx="148.9" cy="380.3" r="0.42" fill="#1a30d0"/><circle cx="130.9" cy="377.3" r="0.42" fill="#5a80ff"/><circle cx="143.8" cy="372.5" r="0.42" fill="#5a80ff"/><circle cx="140.3" cy="391.0" r="0.42" fill="#3c64f0"/><circle cx="140.6" cy="385.1" r="0.42" fill="#5a80ff"/><circle cx="130.2" cy="386.9" r="0.42" fill="#1a30d0"/><circle cx="139.3" cy="388.1" r="0.42" fill="#2848e8"/><circle cx="143.3" cy="382.9" r="0.42" fill="#5a80ff"/><circle cx="147.3" cy="376.8" r="0.42" fill="#5a80ff"/><circle cx="146.9" cy="361.3" r="0.42" fill="#5a80ff"/><circle cx="146.3" cy="389.0" r="0.42" fill="#2848e8"/><circle cx="135.5" cy="363.2" r="0.42" fill="#1a30d0"/><circle cx="132.6" cy="376.4" r="0.42" fill="#20b0d0"/><circle cx="134.2" cy="367.8" r="0.42" fill="#3c64f0"/><circle cx="143.0" cy="367.3" r="0.42" fill="#5a80ff"/><circle cx="139.6" cy="371.9" r="0.42" fill="#1a30d0"/><circle cx="135.2" cy="365.4" r="0.42" fill="#5a80ff"/><circle cx="146.0" cy="388.4" r="0.42" fill="#3c64f0"/><circle cx="133.0" cy="380.7" r="0.42" fill="#5a80ff"/><circle cx="142.8" cy="382.8" r="0.42" fill="#2848e8"/><circle cx="136.5" cy="386.3" r="0.42" fill="#2848e8"/><circle cx="138.5" cy="382.7" r="0.42" fill="#1a30d0"/><circle cx="130.0" cy="392.0" r="0.42" fill="#3c64f0"/><circle cx="138.1" cy="363.6" r="0.42" fill="#2848e8"/><circle cx="146.0" cy="378.4" r="0.42" fill="#5a80ff"/><circle cx="137.4" cy="383.5" r="0.42" fill="#2848e8"/><circle cx="147.6" cy="358.2" r="0.42" fill="#5a80ff"/><circle cx="147.2" cy="360.7" r="0.42" fill="#2848e8"/><circle cx="147.3" cy="358.7" r="0.42" fill="#20b0d0"/><circle cx="144.2" cy="383.9" r="0.42" fill="#2848e8"/><circle cx="139.4" cy="381.5" r="0.42" fill="#3c64f0"/><circle cx="146.0" cy="376.2" r="0.42" fill="#2848e8"/><circle cx="131.7" cy="390.7" r="0.42" fill="#2848e8"/><circle cx="139.8" cy="373.6" r="0.42" fill="#2848e8"/><circle cx="145.6" cy="391.9" r="0.42" fill="#5a80ff"/><circle cx="133.4" cy="387.5" r="0.42" fill="#5a80ff"/><circle cx="143.5" cy="361.9" r="0.42" fill="#1a30d0"/><circle cx="148.6" cy="361.0" r="0.42" fill="#2848e8"/><circle cx="146.7" cy="367.1" r="0.42" fill="#2848e8"/><circle cx="147.6" cy="386.1" r="0.42" fill="#20b0d0"/><circle cx="144.2" cy="367.7" r="0.42" fill="#3c64f0"/><circle cx="135.6" cy="387.8" r="0.42" fill="#2848e8"/><circle cx="149.1" cy="381.2" r="0.42" fill="#2848e8"/><circle cx="136.8" cy="380.2" r="0.42" fill="#2848e8"/><circle cx="142.8" cy="382.2" r="0.42" fill="#2848e8"/><circle cx="138.6" cy="383.5" r="0.42" fill="#5a80ff"/><circle cx="135.8" cy="371.2" r="0.42" fill="#1a30d0"/><circle cx="146.6" cy="360.6" r="0.42" fill="#2848e8"/><circle cx="150.2" cy="391.5" r="0.42" fill="#20b0d0"/><circle cx="130.1" cy="374.5" r="0.42" fill="#1a30d0"/><circle cx="144.9" cy="374.8" r="0.42" fill="#1a30d0"/><circle cx="132.9" cy="366.6" r="0.42" fill="#3c64f0"/><circle cx="141.5" cy="376.4" r="0.42" fill="#1a30d0"/><circle cx="132.9" cy="373.8" r="0.42" fill="#2848e8"/><circle cx="141.1" cy="367.3" r="0.42" fill="#20b0d0"/><circle cx="141.6" cy="392.6" r="0.42" fill="#3c64f0"/><circle cx="136.1" cy="374.2" r="0.42" fill="#3c64f0"/><circle cx="144.7" cy="362.8" r="0.42" fill="#3c64f0"/><circle cx="146.1" cy="383.4" r="0.42" fill="#5a80ff"/><circle cx="130.6" cy="376.8" r="0.42" fill="#2848e8"/><circle cx="141.5" cy="373.4" r="0.42" fill="#1a30d0"/><circle cx="129.4" cy="377.9" r="0.42" fill="#5a80ff"/><circle cx="142.6" cy="361.0" r="0.42" fill="#20b0d0"/><circle cx="146.8" cy="358.9" r="0.42" fill="#2848e8"/><circle cx="136.3" cy="381.1" r="0.42" fill="#1a30d0"/><circle cx="135.7" cy="387.8" r="0.42" fill="#5a80ff"/></g>
<path d="M158.5,368 L165.5,364 L165.5,393.8 L158.5,393.8 Z" fill="#aebcff" opacity="0.45" filter="url(#bl3)"/>
<g opacity="0.85"><circle cx="160.6" cy="371.8" r="0.42" fill="#2a3ee0"/><circle cx="164.7" cy="367.5" r="0.42" fill="#1f2fb8"/><circle cx="160.4" cy="380.1" r="0.42" fill="#5a7cff"/><circle cx="161.8" cy="368.9" r="0.42" fill="#2a3ee0"/><circle cx="162.0" cy="374.9" r="0.42" fill="#3c6cf0"/><circle cx="160.5" cy="380.5" r="0.42" fill="#3c6cf0"/><circle cx="164.9" cy="385.7" r="0.42" fill="#3c6cf0"/><circle cx="164.7" cy="364.5" r="0.42" fill="#2a3ee0"/><circle cx="161.9" cy="387.6" r="0.42" fill="#3c6cf0"/><circle cx="163.3" cy="370.8" r="0.42" fill="#3c6cf0"/><circle cx="159.6" cy="371.9" r="0.42" fill="#2a3ee0"/><circle cx="161.5" cy="382.6" r="0.42" fill="#2a3ee0"/><circle cx="160.5" cy="390.5" r="0.42" fill="#2a3ee0"/><circle cx="163.1" cy="370.5" r="0.42" fill="#3c6cf0"/><circle cx="162.7" cy="387.4" r="0.42" fill="#2a3ee0"/><circle cx="164.2" cy="366.2" r="0.42" fill="#5a7cff"/><circle cx="165.4" cy="365.2" r="0.42" fill="#3c6cf0"/><circle cx="164.2" cy="374.2" r="0.42" fill="#1f2fb8"/><circle cx="162.6" cy="369.4" r="0.42" fill="#5a7cff"/><circle cx="165.1" cy="376.3" r="0.42" fill="#1f2fb8"/><circle cx="158.7" cy="387.5" r="0.42" fill="#3c6cf0"/><circle cx="163.6" cy="384.2" r="0.42" fill="#3c6cf0"/><circle cx="164.1" cy="387.0" r="0.42" fill="#3c6cf0"/><circle cx="159.9" cy="370.5" r="0.42" fill="#5a7cff"/><circle cx="163.5" cy="366.0" r="0.42" fill="#2a3ee0"/><circle cx="164.0" cy="378.3" r="0.42" fill="#1f2fb8"/><circle cx="162.2" cy="373.8" r="0.42" fill="#2a3ee0"/><circle cx="163.8" cy="383.0" r="0.42" fill="#3c6cf0"/><circle cx="164.6" cy="365.5" r="0.42" fill="#5a7cff"/><circle cx="164.0" cy="366.8" r="0.42" fill="#5a7cff"/><circle cx="162.6" cy="387.9" r="0.42" fill="#1f2fb8"/><circle cx="163.2" cy="386.2" r="0.42" fill="#3c6cf0"/><circle cx="160.3" cy="384.7" r="0.42" fill="#5a7cff"/><circle cx="164.8" cy="386.2" r="0.42" fill="#3c6cf0"/><circle cx="161.5" cy="388.6" r="0.42" fill="#5a7cff"/><circle cx="163.7" cy="381.7" r="0.42" fill="#2a3ee0"/><circle cx="159.0" cy="387.3" r="0.42" fill="#5a7cff"/><circle cx="163.8" cy="389.3" r="0.42" fill="#3c6cf0"/><circle cx="159.9" cy="377.6" r="0.42" fill="#3c6cf0"/><circle cx="164.6" cy="381.1" r="0.42" fill="#2a3ee0"/><circle cx="161.2" cy="387.4" r="0.42" fill="#5a7cff"/><circle cx="164.3" cy="376.1" r="0.42" fill="#2a3ee0"/><circle cx="160.1" cy="384.0" r="0.42" fill="#5a7cff"/><circle cx="163.1" cy="390.9" r="0.42" fill="#1f2fb8"/><circle cx="159.3" cy="388.2" r="0.42" fill="#1f2fb8"/><circle cx="161.4" cy="372.9" r="0.42" fill="#3c6cf0"/><circle cx="160.8" cy="370.4" r="0.42" fill="#5a7cff"/><circle cx="161.3" cy="377.9" r="0.42" fill="#2a3ee0"/><circle cx="160.4" cy="384.9" r="0.42" fill="#1f2fb8"/><circle cx="161.4" cy="380.0" r="0.42" fill="#3c6cf0"/><circle cx="159.3" cy="384.4" r="0.42" fill="#2a3ee0"/><circle cx="161.1" cy="390.7" r="0.42" fill="#1f2fb8"/><circle cx="160.4" cy="392.5" r="0.42" fill="#5a7cff"/><circle cx="159.7" cy="374.5" r="0.42" fill="#1f2fb8"/><circle cx="160.7" cy="373.5" r="0.42" fill="#3c6cf0"/><circle cx="164.5" cy="392.9" r="0.42" fill="#1f2fb8"/><circle cx="159.7" cy="392.2" r="0.42" fill="#1f2fb8"/><circle cx="162.5" cy="383.6" r="0.42" fill="#5a7cff"/><circle cx="163.2" cy="393.3" r="0.42" fill="#1f2fb8"/><circle cx="159.4" cy="386.4" r="0.42" fill="#5a7cff"/><circle cx="163.2" cy="366.3" r="0.42" fill="#5a7cff"/><circle cx="161.6" cy="392.5" r="0.42" fill="#5a7cff"/><circle cx="160.6" cy="385.1" r="0.42" fill="#1f2fb8"/><circle cx="165.1" cy="388.1" r="0.42" fill="#2a3ee0"/><circle cx="164.9" cy="378.8" r="0.42" fill="#5a7cff"/><circle cx="164.6" cy="390.5" r="0.42" fill="#2a3ee0"/><circle cx="162.4" cy="377.3" r="0.42" fill="#3c6cf0"/><circle cx="163.6" cy="386.3" r="0.42" fill="#2a3ee0"/><circle cx="165.1" cy="378.4" r="0.42" fill="#2a3ee0"/><circle cx="165.2" cy="390.6" r="0.42" fill="#3c6cf0"/><circle cx="159.8" cy="391.4" r="0.42" fill="#2a3ee0"/><circle cx="165.5" cy="369.2" r="0.42" fill="#5a7cff"/><circle cx="162.9" cy="371.2" r="0.42" fill="#2a3ee0"/><circle cx="161.4" cy="393.1" r="0.42" fill="#2a3ee0"/><circle cx="164.1" cy="384.2" r="0.42" fill="#1f2fb8"/><circle cx="162.0" cy="393.0" r="0.42" fill="#5a7cff"/><circle cx="163.3" cy="372.3" r="0.42" fill="#3c6cf0"/><circle cx="164.3" cy="378.8" r="0.42" fill="#2a3ee0"/><circle cx="164.1" cy="374.3" r="0.42" fill="#3c6cf0"/><circle cx="159.9" cy="388.1" r="0.42" fill="#2a3ee0"/><circle cx="159.6" cy="386.0" r="0.42" fill="#3c6cf0"/><circle cx="163.3" cy="391.0" r="0.42" fill="#5a7cff"/><circle cx="165.3" cy="387.2" r="0.42" fill="#5a7cff"/><circle cx="165.2" cy="369.6" r="0.42" fill="#5a7cff"/><circle cx="164.7" cy="378.1" r="0.42" fill="#5a7cff"/><circle cx="165.0" cy="376.0" r="0.42" fill="#5a7cff"/><circle cx="161.0" cy="373.5" r="0.42" fill="#1f2fb8"/><circle cx="160.4" cy="370.1" r="0.42" fill="#1f2fb8"/><circle cx="162.0" cy="376.2" r="0.42" fill="#3c6cf0"/><circle cx="164.0" cy="373.4" r="0.42" fill="#3c6cf0"/><circle cx="160.5" cy="380.0" r="0.42" fill="#1f2fb8"/><circle cx="163.8" cy="372.2" r="0.42" fill="#5a7cff"/><circle cx="163.5" cy="375.8" r="0.42" fill="#5a7cff"/><circle cx="164.5" cy="367.6" r="0.42" fill="#1f2fb8"/><circle cx="163.9" cy="365.2" r="0.42" fill="#5a7cff"/><circle cx="161.0" cy="392.0" r="0.42" fill="#5a7cff"/><circle cx="165.4" cy="390.4" r="0.42" fill="#2a3ee0"/><circle cx="163.8" cy="384.2" r="0.42" fill="#1f2fb8"/><circle cx="164.3" cy="385.2" r="0.42" fill="#5a7cff"/><circle cx="159.7" cy="369.3" r="0.42" fill="#2a3ee0"/><circle cx="163.9" cy="375.8" r="0.42" fill="#5a7cff"/><circle cx="161.3" cy="378.9" r="0.42" fill="#5a7cff"/><circle cx="160.9" cy="369.5" r="0.42" fill="#3c6cf0"/><circle cx="162.2" cy="379.5" r="0.42" fill="#5a7cff"/><circle cx="159.4" cy="374.1" r="0.42" fill="#2a3ee0"/><circle cx="165.0" cy="366.0" r="0.42" fill="#2a3ee0"/><circle cx="164.5" cy="383.9" r="0.42" fill="#1f2fb8"/><circle cx="161.3" cy="381.1" r="0.42" fill="#5a7cff"/><circle cx="164.0" cy="384.3" r="0.42" fill="#3c6cf0"/><circle cx="159.6" cy="384.0" r="0.42" fill="#3c6cf0"/><circle cx="162.0" cy="390.8" r="0.42" fill="#2a3ee0"/><circle cx="163.7" cy="388.5" r="0.42" fill="#1f2fb8"/><circle cx="164.7" cy="367.9" r="0.42" fill="#1f2fb8"/><circle cx="162.8" cy="372.2" r="0.42" fill="#2a3ee0"/><circle cx="163.9" cy="382.0" r="0.42" fill="#5a7cff"/><circle cx="162.8" cy="390.9" r="0.42" fill="#5a7cff"/><circle cx="159.2" cy="384.1" r="0.42" fill="#2a3ee0"/><circle cx="161.0" cy="384.8" r="0.42" fill="#2a3ee0"/><circle cx="159.4" cy="392.4" r="0.42" fill="#3c6cf0"/><circle cx="158.5" cy="382.8" r="0.42" fill="#3c6cf0"/></g>
<g filter="url(#bl)">
<path d="M128.5,393.8 L128.5,376 L134,370 L140,364.5 L145,360.5 L150.3,358 L150.3,393.8 Z" fill="#18d020" opacity="1"/>
<path d="M129,393.8 L129,380 L134,375 L141,369.5 L147,365.5 L150.3,364.5 L150.3,375.5 L146,380 L143.5,386 L142.5,393.8 Z" fill="#fff000" opacity="1"/>
<path d="M129.8,393.8 L129.8,385 Q131,382 134,381 L139,379 Q142,378.3 141.8,380.5 L140.5,393.8 Z" fill="#ff0c0c" opacity="1"/>
<ellipse cx="157.3" cy="363.2" rx="6.4" ry="11.5" fill="#18d020" transform="rotate(10 157.3 363.2)" opacity="1"/>
<ellipse cx="156.8" cy="362.6" rx="5.4" ry="9.6" fill="#fff000" transform="rotate(10 156.8 362.6)" opacity="1"/>
<ellipse cx="156.5" cy="362.2" rx="4.2" ry="7.6" fill="#ff0c0c" transform="rotate(10 156.5 362.2)" opacity="1"/>
<ellipse cx="154.8" cy="379" rx="3.6" ry="6" fill="#18d020" transform="rotate(0 154.8 379)" opacity="1"/>
<ellipse cx="155.2" cy="388.6" rx="4.6" ry="7.4" fill="#18d020" transform="rotate(0 155.2 388.6)" opacity="1"/>
<ellipse cx="154.8" cy="388.8" rx="3.0" ry="5.5" fill="#fff000" transform="rotate(0 154.8 388.8)" opacity="1"/>
<ellipse cx="154.6" cy="389.0" rx="1.7" ry="3.5" fill="#ff8a00" transform="rotate(0 154.6 389.0)" opacity="1"/>
</g>
</g>
<clipPath id="g3"><path d="M57.5,436.9 L69.1,433.6 L81.2,430.8 L91.5,442.1 L89.8,446.7 L69.1,461.8 L58,466.2 Z"/></clipPath>
<clipPath id="g4"><path d="M130,437.6 L141.1,434.1 L153.7,431 L163.8,442.1 L162.3,447.7 L142.6,464.8 L130.5,466.4 Z"/></clipPath>
<clipPath id="b3"><rect x="57.5" y="467.3" width="12.2" height="13.1" rx="1.6"/></clipPath>
<clipPath id="b4"><rect x="130.3" y="467.3" width="12" height="12.9" rx="1.6"/></clipPath>
<g clip-path="url(#c3)">
<g opacity="0.85"><circle cx="72.2" cy="472.8" r="0.45" fill="#1f2fb8"/><circle cx="73.0" cy="473.6" r="0.45" fill="#2a3ee0"/><circle cx="69.7" cy="475.5" r="0.45" fill="#2a3ee0"/><circle cx="72.4" cy="471.0" r="0.45" fill="#5a7cff"/><circle cx="75.3" cy="473.0" r="0.45" fill="#3c6cf0"/><circle cx="70.8" cy="475.2" r="0.45" fill="#3c6cf0"/><circle cx="73.0" cy="474.6" r="0.45" fill="#3c6cf0"/><circle cx="72.5" cy="472.1" r="0.45" fill="#2a3ee0"/><circle cx="70.0" cy="469.5" r="0.45" fill="#1f2fb8"/><circle cx="72.6" cy="473.5" r="0.45" fill="#3c6cf0"/><circle cx="73.5" cy="476.0" r="0.45" fill="#2a3ee0"/><circle cx="69.9" cy="472.6" r="0.45" fill="#3c6cf0"/><circle cx="74.8" cy="473.8" r="0.45" fill="#3c6cf0"/><circle cx="71.6" cy="470.1" r="0.45" fill="#1f2fb8"/><circle cx="70.5" cy="475.0" r="0.45" fill="#2a3ee0"/><circle cx="73.9" cy="472.9" r="0.45" fill="#1f2fb8"/><circle cx="74.2" cy="475.2" r="0.45" fill="#3c6cf0"/><circle cx="74.1" cy="470.2" r="0.45" fill="#5a7cff"/><circle cx="75.0" cy="474.6" r="0.45" fill="#2a3ee0"/><circle cx="69.9" cy="470.2" r="0.45" fill="#2a3ee0"/><circle cx="74.5" cy="474.0" r="0.45" fill="#5a7cff"/><circle cx="72.8" cy="473.8" r="0.45" fill="#5a7cff"/><circle cx="69.8" cy="470.0" r="0.45" fill="#5a7cff"/><circle cx="73.8" cy="475.1" r="0.45" fill="#5a7cff"/><circle cx="70.1" cy="469.8" r="0.45" fill="#1f2fb8"/><circle cx="72.4" cy="469.2" r="0.45" fill="#5a7cff"/><circle cx="74.3" cy="472.5" r="0.45" fill="#3c6cf0"/><circle cx="74.6" cy="473.0" r="0.45" fill="#5a7cff"/><circle cx="72.5" cy="470.3" r="0.45" fill="#5a7cff"/><circle cx="70.7" cy="470.9" r="0.45" fill="#1f2fb8"/></g>
<g opacity="0.85"><circle cx="70.1" cy="457.4" r="0.42" fill="#1f2fb8"/><circle cx="70.5" cy="449.6" r="0.42" fill="#1f2fb8"/><circle cx="69.2" cy="455.3" r="0.42" fill="#2a3ee0"/><circle cx="72.2" cy="436.1" r="0.42" fill="#2a3ee0"/><circle cx="75.0" cy="443.5" r="0.42" fill="#1f2fb8"/><circle cx="72.4" cy="451.0" r="0.42" fill="#3c6cf0"/><circle cx="69.1" cy="440.1" r="0.42" fill="#5a7cff"/><circle cx="71.7" cy="437.6" r="0.42" fill="#3c6cf0"/><circle cx="70.2" cy="451.3" r="0.42" fill="#3c6cf0"/><circle cx="74.0" cy="446.7" r="0.42" fill="#1f2fb8"/><circle cx="73.2" cy="438.0" r="0.42" fill="#1f2fb8"/><circle cx="73.2" cy="436.6" r="0.42" fill="#3c6cf0"/><circle cx="69.0" cy="449.2" r="0.42" fill="#3c6cf0"/><circle cx="69.3" cy="437.3" r="0.42" fill="#3c6cf0"/><circle cx="69.3" cy="441.0" r="0.42" fill="#3c6cf0"/><circle cx="72.9" cy="449.5" r="0.42" fill="#1f2fb8"/><circle cx="70.8" cy="438.8" r="0.42" fill="#2a3ee0"/><circle cx="69.7" cy="438.6" r="0.42" fill="#3c6cf0"/><circle cx="73.3" cy="443.1" r="0.42" fill="#1f2fb8"/><circle cx="73.3" cy="449.9" r="0.42" fill="#2a3ee0"/><circle cx="73.3" cy="446.4" r="0.42" fill="#2a3ee0"/><circle cx="72.9" cy="440.2" r="0.42" fill="#3c6cf0"/><circle cx="72.2" cy="438.1" r="0.42" fill="#3c6cf0"/><circle cx="73.3" cy="437.2" r="0.42" fill="#5a7cff"/><circle cx="73.7" cy="437.2" r="0.42" fill="#3c6cf0"/></g>
<defs>
<linearGradient id="s3v" x1="0" y1="0" x2="0" y2="1">
<stop offset="0" stop-color="#ffffff"/><stop offset="0.12" stop-color="#d8f0d0"/><stop offset="0.22" stop-color="#9be05a"/>
<stop offset="0.33" stop-color="#ff8a10"/><stop offset="0.42" stop-color="#ffd800"/><stop offset="0.55" stop-color="#30d030"/>
<stop offset="0.75" stop-color="#20c890"/><stop offset="0.9" stop-color="#40b0e0"/><stop offset="1" stop-color="#c8e0ff"/></linearGradient>
<linearGradient id="s3iv" x1="0" y1="0" x2="0" y2="1">
<stop offset="0" stop-color="#ffffff"/><stop offset="0.15" stop-color="#d8f4c0"/><stop offset="0.3" stop-color="#c8ec20"/>
<stop offset="0.45" stop-color="#30d030"/><stop offset="0.65" stop-color="#22c8a8"/><stop offset="0.85" stop-color="#3a80e8"/><stop offset="1" stop-color="#dde6ff"/></linearGradient>
<linearGradient id="s4v" x1="0" y1="0" x2="0" y2="1">
<stop offset="0" stop-color="#ffffff"/><stop offset="0.12" stop-color="#ff9a60"/><stop offset="0.22" stop-color="#ff1a0a"/>
<stop offset="0.55" stop-color="#ff1a0a"/><stop offset="0.66" stop-color="#ff8a00"/><stop offset="0.76" stop-color="#ffe800"/>
<stop offset="0.88" stop-color="#40d030"/><stop offset="1" stop-color="#30c860"/></linearGradient>
<linearGradient id="s4iv" x1="0" y1="0" x2="0" y2="1">
<stop offset="0" stop-color="#ffffff"/><stop offset="0.1" stop-color="#ff6040"/><stop offset="0.2" stop-color="#ff1a0a"/>
<stop offset="0.38" stop-color="#ffb000"/><stop offset="0.5" stop-color="#c8e820"/><stop offset="0.66" stop-color="#30d030"/>
<stop offset="0.82" stop-color="#30a8e0"/><stop offset="1" stop-color="#c0d4ff"/></linearGradient>
<linearGradient id="s4iii" x1="0" y1="0" x2="0" y2="1">
<stop offset="0" stop-color="#ffffff"/><stop offset="0.12" stop-color="#ffd040"/><stop offset="0.25" stop-color="#60d040"/>
<stop offset="0.45" stop-color="#3090e0"/><stop offset="0.7" stop-color="#a8c0ff"/><stop offset="1" stop-color="#ffffff"/></linearGradient>
</defs>
<g clip-path="url(#g3)"><g filter="url(#bl2)">
<path d="M57.8,437.5 L61.6,436.1 L65.1,464.9 L58.2,466.2 Z" fill="url(#s3v)"/>
<path d="M61.6,436.1 L66.2,435 L69.5,463.3 L65.1,464.9 Z" fill="url(#s3iv)"/>
</g></g>
<g clip-path="url(#b3)"><g filter="url(#bl2)">
<rect x="65.5" y="467.3" width="4.5" height="13.1" fill="#9ad4f4" />
<ellipse cx="64.2" cy="474.0" rx="6.2" ry="7.2" fill="#18d020" transform="rotate(0 64.2 474.0)" opacity="1"/>
<ellipse cx="63.0" cy="474.0" rx="5.0" ry="6.4" fill="#fff000" transform="rotate(0 63.0 474.0)" opacity="1"/>
<ellipse cx="62.0" cy="474.2" rx="4.0" ry="5.8" fill="#ff0c0c" transform="rotate(0 62.0 474.2)" opacity="1"/>
</g></g>
</g>
<g clip-path="url(#c4)">
<path d="M145,446 L149,440 L156,439 L160,444 L157,452 L150,457 L145,453 Z" fill="#c4d0ff" opacity="0.55" filter="url(#bl3)"/>
<g opacity="0.85"><circle cx="146.5" cy="445.6" r="0.45" fill="#5a7cff"/><circle cx="149.6" cy="444.3" r="0.45" fill="#1f2fb8"/><circle cx="155.4" cy="449.8" r="0.45" fill="#1f2fb8"/><circle cx="151.8" cy="446.3" r="0.45" fill="#3c6cf0"/><circle cx="145.5" cy="451.3" r="0.45" fill="#1f2fb8"/><circle cx="154.3" cy="444.3" r="0.45" fill="#5a7cff"/><circle cx="155.6" cy="443.5" r="0.45" fill="#5a7cff"/><circle cx="150.7" cy="441.9" r="0.45" fill="#3c6cf0"/><circle cx="156.3" cy="443.9" r="0.45" fill="#3c6cf0"/><circle cx="145.2" cy="448.7" r="0.45" fill="#5a7cff"/><circle cx="148.5" cy="455.0" r="0.45" fill="#5a7cff"/><circle cx="145.0" cy="452.9" r="0.45" fill="#3c6cf0"/><circle cx="153.0" cy="440.9" r="0.45" fill="#5a7cff"/><circle cx="151.4" cy="445.1" r="0.45" fill="#2a3ee0"/><circle cx="147.4" cy="448.6" r="0.45" fill="#3c6cf0"/><circle cx="159.1" cy="446.3" r="0.45" fill="#2a3ee0"/><circle cx="154.7" cy="442.9" r="0.45" fill="#2a3ee0"/><circle cx="155.7" cy="446.8" r="0.45" fill="#2a3ee0"/><circle cx="151.6" cy="451.4" r="0.45" fill="#5a7cff"/><circle cx="156.3" cy="443.5" r="0.45" fill="#5a7cff"/><circle cx="154.3" cy="450.8" r="0.45" fill="#3c6cf0"/><circle cx="154.8" cy="449.8" r="0.45" fill="#1f2fb8"/><circle cx="149.6" cy="440.2" r="0.45" fill="#2a3ee0"/><circle cx="153.0" cy="440.3" r="0.45" fill="#2a3ee0"/><circle cx="155.3" cy="443.9" r="0.45" fill="#1f2fb8"/><circle cx="149.5" cy="446.4" r="0.45" fill="#3c6cf0"/><circle cx="151.7" cy="452.1" r="0.45" fill="#2a3ee0"/><circle cx="157.9" cy="447.3" r="0.45" fill="#5a7cff"/><circle cx="157.4" cy="443.1" r="0.45" fill="#3c6cf0"/><circle cx="157.0" cy="451.1" r="0.45" fill="#5a7cff"/><circle cx="156.7" cy="450.9" r="0.45" fill="#5a7cff"/><circle cx="154.9" cy="442.3" r="0.45" fill="#3c6cf0"/><circle cx="152.2" cy="454.1" r="0.45" fill="#2a3ee0"/><circle cx="150.7" cy="450.7" r="0.45" fill="#3c6cf0"/><circle cx="149.0" cy="455.8" r="0.45" fill="#5a7cff"/><circle cx="150.5" cy="452.0" r="0.45" fill="#3c6cf0"/><circle cx="150.5" cy="452.3" r="0.45" fill="#5a7cff"/><circle cx="150.5" cy="448.4" r="0.45" fill="#2a3ee0"/><circle cx="147.5" cy="452.7" r="0.45" fill="#2a3ee0"/><circle cx="148.4" cy="442.5" r="0.45" fill="#3c6cf0"/><circle cx="148.6" cy="455.1" r="0.45" fill="#5a7cff"/><circle cx="151.6" cy="441.1" r="0.45" fill="#1f2fb8"/><circle cx="153.3" cy="447.9" r="0.45" fill="#1f2fb8"/><circle cx="146.8" cy="447.6" r="0.45" fill="#3c6cf0"/><circle cx="158.6" cy="446.7" r="0.45" fill="#2a3ee0"/><circle cx="150.4" cy="447.4" r="0.45" fill="#5a7cff"/><circle cx="153.3" cy="440.3" r="0.45" fill="#3c6cf0"/><circle cx="152.3" cy="442.9" r="0.45" fill="#1f2fb8"/><circle cx="152.9" cy="443.3" r="0.45" fill="#3c6cf0"/><circle cx="152.7" cy="444.7" r="0.45" fill="#2a3ee0"/><circle cx="156.0" cy="440.3" r="0.45" fill="#1f2fb8"/><circle cx="154.5" cy="440.8" r="0.45" fill="#5a7cff"/><circle cx="154.9" cy="445.5" r="0.45" fill="#2a3ee0"/><circle cx="155.6" cy="447.5" r="0.45" fill="#5a7cff"/><circle cx="154.8" cy="448.3" r="0.45" fill="#2a3ee0"/><circle cx="154.7" cy="451.4" r="0.45" fill="#2a3ee0"/><circle cx="153.1" cy="443.2" r="0.45" fill="#1f2fb8"/><circle cx="155.0" cy="441.5" r="0.45" fill="#5a7cff"/><circle cx="147.2" cy="453.5" r="0.45" fill="#5a7cff"/><circle cx="150.5" cy="455.2" r="0.45" fill="#3c6cf0"/><circle cx="155.5" cy="439.3" r="0.45" fill="#1f2fb8"/><circle cx="151.6" cy="441.5" r="0.45" fill="#3c6cf0"/><circle cx="149.6" cy="444.7" r="0.45" fill="#3c6cf0"/><circle cx="159.1" cy="446.2" r="0.45" fill="#3c6cf0"/><circle cx="148.5" cy="447.6" r="0.45" fill="#1f2fb8"/><circle cx="155.1" cy="442.8" r="0.45" fill="#3c6cf0"/><circle cx="147.9" cy="447.5" r="0.45" fill="#5a7cff"/><circle cx="149.8" cy="446.3" r="0.45" fill="#5a7cff"/><circle cx="151.2" cy="451.8" r="0.45" fill="#5a7cff"/><circle cx="156.6" cy="443.3" r="0.45" fill="#2a3ee0"/><circle cx="147.3" cy="453.6" r="0.45" fill="#1f2fb8"/><circle cx="152.1" cy="448.9" r="0.45" fill="#1f2fb8"/><circle cx="147.1" cy="443.3" r="0.45" fill="#2a3ee0"/><circle cx="149.1" cy="446.5" r="0.45" fill="#3c6cf0"/><circle cx="149.8" cy="452.6" r="0.45" fill="#3c6cf0"/><circle cx="148.5" cy="442.0" r="0.45" fill="#1f2fb8"/><circle cx="156.9" cy="443.6" r="0.45" fill="#3c6cf0"/><circle cx="149.0" cy="456.0" r="0.45" fill="#1f2fb8"/><circle cx="146.4" cy="446.8" r="0.45" fill="#2a3ee0"/><circle cx="146.1" cy="452.6" r="0.45" fill="#3c6cf0"/><circle cx="158.1" cy="446.6" r="0.45" fill="#1f2fb8"/><circle cx="154.8" cy="448.2" r="0.45" fill="#2a3ee0"/><circle cx="151.7" cy="448.0" r="0.45" fill="#5a7cff"/><circle cx="147.7" cy="451.5" r="0.45" fill="#5a7cff"/><circle cx="154.7" cy="446.4" r="0.45" fill="#5a7cff"/><circle cx="155.2" cy="440.3" r="0.45" fill="#2a3ee0"/><circle cx="154.4" cy="447.5" r="0.45" fill="#5a7cff"/><circle cx="152.1" cy="451.2" r="0.45" fill="#3c6cf0"/><circle cx="152.0" cy="444.8" r="0.45" fill="#3c6cf0"/><circle cx="151.0" cy="441.4" r="0.45" fill="#3c6cf0"/><circle cx="150.6" cy="451.7" r="0.45" fill="#1f2fb8"/><circle cx="155.0" cy="452.8" r="0.45" fill="#3c6cf0"/><circle cx="152.6" cy="454.9" r="0.45" fill="#1f2fb8"/><circle cx="154.7" cy="447.5" r="0.45" fill="#1f2fb8"/><circle cx="150.3" cy="451.7" r="0.45" fill="#1f2fb8"/><circle cx="149.7" cy="453.6" r="0.45" fill="#2a3ee0"/><circle cx="155.1" cy="453.1" r="0.45" fill="#1f2fb8"/><circle cx="150.5" cy="456.3" r="0.45" fill="#5a7cff"/><circle cx="157.5" cy="450.6" r="0.45" fill="#3c6cf0"/><circle cx="147.9" cy="452.8" r="0.45" fill="#5a7cff"/><circle cx="154.7" cy="441.9" r="0.45" fill="#2a3ee0"/><circle cx="153.0" cy="452.1" r="0.45" fill="#5a7cff"/><circle cx="148.7" cy="442.1" r="0.45" fill="#3c6cf0"/><circle cx="149.0" cy="451.8" r="0.45" fill="#3c6cf0"/><circle cx="147.2" cy="445.0" r="0.45" fill="#5a7cff"/><circle cx="149.8" cy="446.5" r="0.45" fill="#1f2fb8"/><circle cx="158.1" cy="445.0" r="0.45" fill="#2a3ee0"/><circle cx="149.0" cy="443.8" r="0.45" fill="#2a3ee0"/><circle cx="154.4" cy="451.5" r="0.45" fill="#5a7cff"/><circle cx="149.9" cy="448.0" r="0.45" fill="#3c6cf0"/></g>
<g opacity="0.85"><circle cx="153.6" cy="438.9" r="0.5" fill="#2a3ee0"/><circle cx="156.4" cy="441.7" r="0.5" fill="#3050f0"/><circle cx="155.2" cy="440.2" r="0.5" fill="#2a3ee0"/><circle cx="156.0" cy="439.2" r="0.5" fill="#2a3ee0"/><circle cx="150.3" cy="439.2" r="0.5" fill="#3050f0"/><circle cx="153.7" cy="439.5" r="0.5" fill="#2a3ee0"/><circle cx="156.4" cy="441.9" r="0.5" fill="#3050f0"/><circle cx="153.0" cy="442.4" r="0.5" fill="#3050f0"/><circle cx="155.2" cy="438.7" r="0.5" fill="#2a3ee0"/><circle cx="150.2" cy="440.7" r="0.5" fill="#3050f0"/><circle cx="150.0" cy="440.8" r="0.5" fill="#3050f0"/><circle cx="149.3" cy="439.0" r="0.5" fill="#3050f0"/><circle cx="155.9" cy="440.8" r="0.5" fill="#3050f0"/><circle cx="153.2" cy="440.8" r="0.5" fill="#3050f0"/><circle cx="153.1" cy="439.6" r="0.5" fill="#2a3ee0"/><circle cx="152.6" cy="440.0" r="0.5" fill="#2a3ee0"/><circle cx="155.9" cy="443.9" r="0.5" fill="#3050f0"/><circle cx="154.9" cy="442.1" r="0.5" fill="#3050f0"/><circle cx="155.8" cy="439.3" r="0.5" fill="#2a3ee0"/><circle cx="154.2" cy="441.8" r="0.5" fill="#2a3ee0"/><circle cx="150.2" cy="440.9" r="0.5" fill="#3050f0"/><circle cx="157.4" cy="441.6" r="0.5" fill="#3050f0"/><circle cx="153.3" cy="444.3" r="0.5" fill="#3050f0"/><circle cx="154.2" cy="439.3" r="0.5" fill="#3050f0"/><circle cx="157.4" cy="442.7" r="0.5" fill="#2a3ee0"/><circle cx="152.7" cy="443.1" r="0.5" fill="#3050f0"/><circle cx="154.6" cy="441.1" r="0.5" fill="#2a3ee0"/><circle cx="155.2" cy="444.0" r="0.5" fill="#2a3ee0"/><circle cx="149.4" cy="439.3" r="0.5" fill="#2a3ee0"/><circle cx="154.0" cy="441.5" r="0.5" fill="#2a3ee0"/><circle cx="152.3" cy="441.0" r="0.5" fill="#2a3ee0"/><circle cx="156.9" cy="441.9" r="0.5" fill="#2a3ee0"/><circle cx="151.9" cy="440.2" r="0.5" fill="#2a3ee0"/><circle cx="154.0" cy="440.7" r="0.5" fill="#3050f0"/><circle cx="151.9" cy="440.0" r="0.5" fill="#2a3ee0"/><circle cx="152.9" cy="445.0" r="0.5" fill="#3050f0"/><circle cx="156.0" cy="438.7" r="0.5" fill="#3050f0"/><circle cx="156.1" cy="443.7" r="0.5" fill="#3050f0"/><circle cx="151.1" cy="444.0" r="0.5" fill="#3050f0"/><circle cx="154.8" cy="443.4" r="0.5" fill="#2a3ee0"/></g>
<g clip-path="url(#g4)"><g filter="url(#bl2)">
<path d="M130,437.6 L134.2,436.6 L137.6,465.6 L130.5,466.4 Z" fill="url(#s4v)"/>
<path d="M134.2,436.6 L138.6,435.4 L141.8,465 L137.6,465.6 Z" fill="url(#s4iv)"/>
<path d="M138.6,435.4 L141.6,434.6 L145.3,463 L141.8,465 Z" fill="url(#s4iii)"/>
<ellipse cx="153.0" cy="444.5" rx="2.4" ry="3.0" fill="#3a5af0" transform="rotate(30 153.0 444.5)" opacity="0.75"/>
<ellipse cx="150.4" cy="442.6" rx="2.4" ry="2.6" fill="#28b4d0" transform="rotate(10 150.4 442.6)" opacity="0.9"/>
<ellipse cx="147.4" cy="441.6" rx="2.6" ry="2.6" fill="#18d020" transform="rotate(0 147.4 441.6)" opacity="1"/>
<ellipse cx="144.6" cy="441.4" rx="2.0" ry="2.4" fill="#fff000" transform="rotate(0 144.6 441.4)" opacity="1"/>
<ellipse cx="142.4" cy="442.0" rx="1.8" ry="2.4" fill="#ff8a00" transform="rotate(0 142.4 442.0)" opacity="1"/>
</g></g>
<g clip-path="url(#b4)"><g filter="url(#bl2)">
<rect x="137.5" y="467.3" width="5" height="12.9" fill="#9ad4f4" />
<ellipse cx="135.6" cy="474.0" rx="5.0" ry="7.0" fill="#18d020" transform="rotate(0 135.6 474.0)" opacity="1"/>
<ellipse cx="134.3" cy="474.3" rx="3.2" ry="5.4" fill="#fff000" transform="rotate(0 134.3 474.3)" opacity="1"/>
<ellipse cx="134.0" cy="474.5" rx="1.7" ry="3.4" fill="#ff8a00" transform="rotate(0 134.0 474.5)" opacity="1"/>
</g></g>
</g>
<path d="M77.9,393.4 L77.9,352.6 Q78.2,350.5 80.6,350.5 L93.3,350.5 L93.3,393.4 Z" fill="none" stroke="#111" stroke-width="1.2" stroke-linejoin="round"/>
<path d="M66.3,359.2 L70.4,354.3 L73.6,353.1 L77.8,352.8 L77.9,358.6 L74.8,360.8 L70.2,362.9 L67,361.6 Z" fill="none" stroke="#111" stroke-width="1.2" stroke-linejoin="round"/>
<path d="M150.4,393.4 L150.4,353.3 Q150.7,351.1 153,351.1 L165.6,351.1 L165.6,393.4 Z" fill="none" stroke="#111" stroke-width="1.2" stroke-linejoin="round"/>
<path d="M138.8,359.2 L143.7,354.0 L150.1,353.2 L150.2,360.4 L143.0,363.3 L139.5,361.8 Z" fill="#5cd43c" stroke="#111" stroke-width="1.2" stroke-linejoin="round"/>
<path d="M57.5,436.9 L69.1,433.6 L81.2,430.8 L91.5,442.1 L89.8,446.7 L69.1,461.8 L58,466.2 Z" fill="none" stroke="#111" stroke-width="1.2" stroke-linejoin="round"/>
<rect x="57.5" y="467.3" width="12.2" height="13.1" rx="1.6" fill="none" stroke="#111" stroke-width="1.2" stroke-linejoin="round"/>
<line x1="61.6" y1="436.1" x2="65.1" y2="464.9" stroke="#111" stroke-width="1.1" />
<line x1="66.2" y1="435" x2="69.5" y2="463.3" stroke="#111" stroke-width="1.1" />
<line x1="69.3" y1="434.2" x2="73" y2="460.8" stroke="#111" stroke-width="1.1" />
<path d="M130,437.6 L141.1,434.1 L153.7,431 L163.8,442.1 L162.3,447.7 L142.6,464.8 L130.5,466.4 Z" fill="none" stroke="#111" stroke-width="1.2" stroke-linejoin="round"/>
<rect x="130.3" y="467.3" width="12" height="12.9" rx="1.6" fill="none" stroke="#111" stroke-width="1.2" stroke-linejoin="round"/>
<line x1="134.2" y1="436.6" x2="137.6" y2="465.6" stroke="#111" stroke-width="1.1" />
<line x1="138.6" y1="435.4" x2="141.8" y2="465" stroke="#111" stroke-width="1.1" />
<line x1="141.6" y1="434.6" x2="145.3" y2="463" stroke="#111" stroke-width="1.1" />
<text x="58.2" y="350.3" font-size="4.2" textLength="12.2" lengthAdjust="spacingAndGlyphs" fill="#2a2a2a" >I (Pro)</text>
<text x="73.4" y="346.3" font-size="4.0" textLength="36" lengthAdjust="spacingAndGlyphs" fill="#2a2a2a" >II - VI (Baso - RBC)</text>
<text x="130.4" y="350.0" font-size="4.2" textLength="12.2" lengthAdjust="spacingAndGlyphs" fill="#2a2a2a" >I (Pro)</text>
<text x="145.6" y="346.3" font-size="4.0" textLength="36" lengthAdjust="spacingAndGlyphs" fill="#2a2a2a" >II - VI (Baso - RBC)</text>
<text x="58.2" y="434.0" font-size="3.8" fill="#2a2a2a" >V</text>
<text x="63.2" y="431.4" font-size="3.8" fill="#2a2a2a" >IV</text>
<text x="69.5" y="429.6" font-size="3.8" fill="#2a2a2a" >III</text>
<text x="85.2" y="432.4" font-size="3.8" fill="#2a2a2a" >II</text>
<text x="130.8" y="434.0" font-size="3.8" fill="#2a2a2a" >V</text>
<text x="135.8" y="431.4" font-size="3.8" fill="#2a2a2a" >IV</text>
<text x="142.1" y="429.6" font-size="3.8" fill="#2a2a2a" >III</text>
<text x="157.8" y="432.4" font-size="3.8" fill="#2a2a2a" >II</text>
<text x="53.2" y="340.7" font-size="5.8" text-anchor="end" fill="#222">10<tspan font-size="3.60" dy="-2.44">3</tspan></text>
<text x="53.2" y="354.1" font-size="5.8" text-anchor="end" fill="#222">10<tspan font-size="3.60" dy="-2.44">2</tspan></text>
<text x="53.2" y="367.8" font-size="5.8" text-anchor="end" fill="#222">10<tspan font-size="3.60" dy="-2.44">1</tspan></text>
<text x="53.2" y="381.8" font-size="5.8" text-anchor="end" fill="#222">10<tspan font-size="3.60" dy="-2.44">0</tspan></text>
<text x="126.0" y="339.9" font-size="5.8" text-anchor="end" fill="#222">10<tspan font-size="3.60" dy="-2.44">3</tspan></text>
<text x="126.0" y="353.8" font-size="5.8" text-anchor="end" fill="#222">10<tspan font-size="3.60" dy="-2.44">2</tspan></text>
<text x="126.0" y="367.7" font-size="5.8" text-anchor="end" fill="#222">10<tspan font-size="3.60" dy="-2.44">1</tspan></text>
<text x="126.0" y="381.7" font-size="5.8" text-anchor="end" fill="#222">10<tspan font-size="3.60" dy="-2.44">0</tspan></text>
<text x="54.0" y="427.6" font-size="5.8" text-anchor="end" fill="#222">10<tspan font-size="3.60" dy="-2.44">3</tspan></text>
<text x="54.0" y="441.1" font-size="5.8" text-anchor="end" fill="#222">10<tspan font-size="3.60" dy="-2.44">2</tspan></text>
<text x="54.0" y="454.6" font-size="5.8" text-anchor="end" fill="#222">10<tspan font-size="3.60" dy="-2.44">1</tspan></text>
<text x="54.0" y="468.4" font-size="5.8" text-anchor="end" fill="#222">10<tspan font-size="3.60" dy="-2.44">0</tspan></text>
<text x="126.5" y="426.9" font-size="5.8" text-anchor="end" fill="#222">10<tspan font-size="3.60" dy="-2.44">3</tspan></text>
<text x="126.5" y="440.6" font-size="5.8" text-anchor="end" fill="#222">10<tspan font-size="3.60" dy="-2.44">2</tspan></text>
<text x="126.5" y="454.4" font-size="5.8" text-anchor="end" fill="#222">10<tspan font-size="3.60" dy="-2.44">1</tspan></text>
<text x="126.5" y="468.2" font-size="5.8" text-anchor="end" fill="#222">10<tspan font-size="3.60" dy="-2.44">0</tspan></text>
<text x="67.3" y="401.6" font-size="5.8" fill="#222">10<tspan font-size="3.60" dy="-2.44">0</tspan></text>
<text x="81.7" y="401.6" font-size="5.8" fill="#222">10<tspan font-size="3.60" dy="-2.44">1</tspan></text>
<text x="97.6" y="401.6" font-size="5.8" fill="#222">10<tspan font-size="3.60" dy="-2.44">2</tspan></text>
<text x="112.0" y="401.6" font-size="5.8" fill="#222">10<tspan font-size="3.60" dy="-2.44">3</tspan></text>
<text x="141.7" y="401.6" font-size="5.8" fill="#222">10<tspan font-size="3.60" dy="-2.44">0</tspan></text>
<text x="153.9" y="401.6" font-size="5.8" fill="#222">10<tspan font-size="3.60" dy="-2.44">1</tspan></text>
<text x="171.0" y="401.6" font-size="5.8" fill="#222">10<tspan font-size="3.60" dy="-2.44">2</tspan></text>
<text x="185.0" y="401.6" font-size="5.8" fill="#222">10<tspan font-size="3.60" dy="-2.44">3</tspan></text>
<text x="103.2" y="487.4" font-size="5.4" textLength="12.1" lengthAdjust="spacingAndGlyphs" fill="#222" >1023</text>
<text x="176.6" y="487.4" font-size="5.4" textLength="11.3" lengthAdjust="spacingAndGlyphs" fill="#222" >1023</text>
<line x1="39.4" y1="372.5" x2="39.4" y2="343.5" stroke="#111" stroke-width="1.1" />
<path d="M39.4,339.9 L36.8,345.9 L39.4,344.21999999999997 L42.0,345.9 Z" fill="#111" stroke="#111" stroke-width="0.3" stroke-linejoin="round"/>
<line x1="39.6" y1="460.6" x2="39.6" y2="430.3" stroke="#111" stroke-width="1.1" />
<path d="M39.6,426.7 L36.9,432.7 L39.6,431.02 L42.300000000000004,432.7 Z" fill="#111" stroke="#111" stroke-width="0.3" stroke-linejoin="round"/>
<line x1="81.4" y1="393.6" x2="81.4" y2="423.24" stroke="#111" stroke-width="1.1" />
<path d="M81.4,426.6 L78.9,421.0 L81.4,422.56800000000004 L83.9,421.0 Z" fill="#111" stroke="#111" stroke-width="0.3" stroke-linejoin="round"/>
<line x1="153.7" y1="394.0" x2="153.7" y2="423.44" stroke="#111" stroke-width="1.1" />
<path d="M153.7,426.8 L151.2,421.2 L153.7,422.76800000000003 L156.2,421.2 Z" fill="#111" stroke="#111" stroke-width="0.3" stroke-linejoin="round"/>
<line x1="80.3" y1="410.3" x2="183.58" y2="410.3" stroke="#111" stroke-width="1.1" />
<path d="M187.0,410.3 L181.3,408.1 L182.896,410.3 L181.3,412.5 Z" fill="#111" stroke="#111" stroke-width="0.3" stroke-linejoin="round"/>
<line x1="70.8" y1="495.3" x2="183.68" y2="495.3" stroke="#111" stroke-width="1.1" />
<path d="M187.1,495.3 L181.4,493.1 L182.99599999999998,495.3 L181.4,497.5 Z" fill="#111" stroke="#111" stroke-width="0.3" stroke-linejoin="round"/>
<text transform="translate(42.8,383.9) rotate(-90)" font-size="7.8" text-anchor="middle" textLength="16.1" lengthAdjust="spacingAndGlyphs" >CD71</text>
<text transform="translate(42.9,471.1) rotate(-90)" font-size="7.8" text-anchor="middle" textLength="14.4" lengthAdjust="spacingAndGlyphs" >CD71</text>
<text x="55.8" y="413.1" font-size="8.0" textLength="20.9" lengthAdjust="spacingAndGlyphs" >Ter119</text>
<text x="56.0" y="497.7" font-size="7.4" textLength="11.7" lengthAdjust="spacingAndGlyphs" >FSC</text>
<text x="10.8" y="406.8" font-size="7.8" textLength="21.3" lengthAdjust="spacingAndGlyphs">CD45</text><text x="32.0" y="403.6" font-size="5">-</text>
<text x="7.5" y="417.2" font-size="8.2" textLength="26.1" lengthAdjust="spacingAndGlyphs">Ter119</text><text x="33.8" y="414.8" font-size="5">+</text>
<rect x="0" y="1" width="520" height="1" fill="#bbb"/><rect x="1" y="0" width="1" height="575" fill="#999"/><rect x="518" y="0" width="1" height="575" fill="#888"/><rect x="0" y="573" width="520" height="1" fill="#888"/>
<rect x="0" y="0" width="520" height="1" fill="#000"/><rect x="0" y="0" width="1" height="575" fill="#000"/><rect x="519" y="0" width="1" height="575" fill="#000"/><rect x="0" y="574" width="520" height="1" fill="#000"/>
</svg>
</body></html>
